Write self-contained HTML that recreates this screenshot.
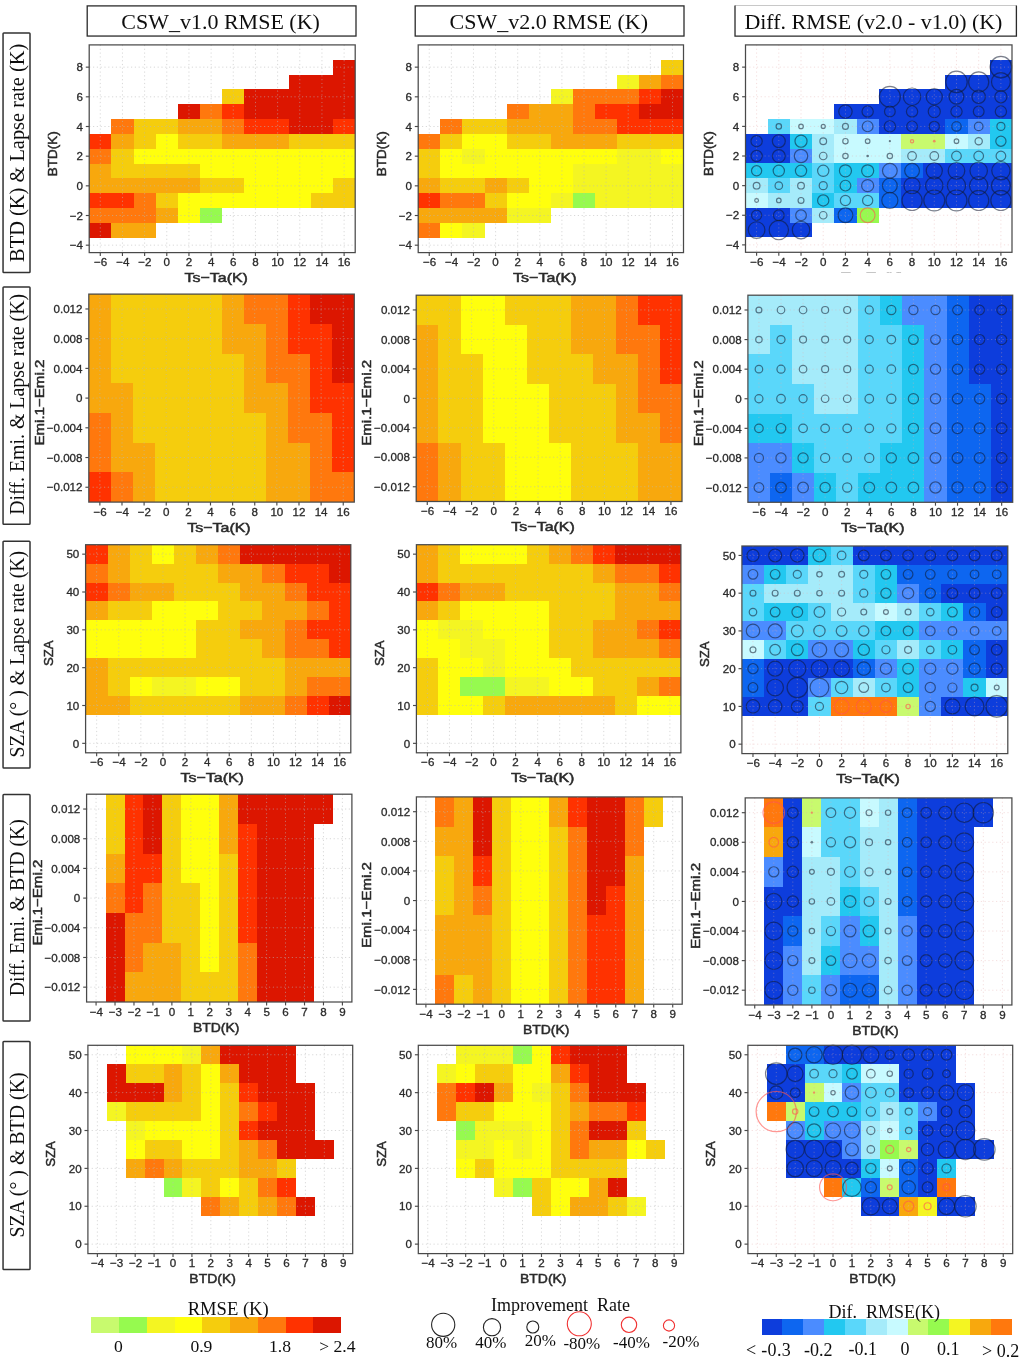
<!DOCTYPE html>
<html lang="en"><head><meta charset="utf-8"><title>RMSE comparison</title>
<style>html,body{margin:0;padding:0;background:#fff}svg{display:block}</style></head>
<body>
<svg width="1024" height="1363" viewBox="0 0 1024 1363">
<rect width="1024" height="1363" fill="#fff"/>
<defs><filter id="soft" x="0" y="0" width="100%" height="100%" filterUnits="userSpaceOnUse"><feGaussianBlur stdDeviation="0.42"/></filter></defs>
<g filter="url(#soft)">
<g>
<g shape-rendering="crispEdges">
<rect x="333.03" y="59.74" width="22.17" height="14.84" fill="#DC1400"/>
<rect x="288.7" y="74.57" width="66.5" height="14.84" fill="#DC1400"/>
<rect x="222.2" y="89.41" width="22.17" height="14.84" fill="#F5CD0A"/>
<rect x="244.37" y="89.41" width="110.83" height="14.84" fill="#DC1400"/>
<rect x="177.87" y="104.24" width="22.17" height="14.84" fill="#DC1400"/>
<rect x="200.03" y="104.24" width="22.17" height="14.84" fill="#FF780A"/>
<rect x="222.2" y="104.24" width="22.17" height="14.84" fill="#FF3200"/>
<rect x="244.37" y="104.24" width="110.83" height="14.84" fill="#DC1400"/>
<rect x="111.37" y="119.08" width="22.17" height="14.84" fill="#FF780A"/>
<rect x="133.53" y="119.08" width="44.33" height="14.84" fill="#F5CD0A"/>
<rect x="177.87" y="119.08" width="44.33" height="14.84" fill="#F8A80A"/>
<rect x="222.2" y="119.08" width="22.17" height="14.84" fill="#FF780A"/>
<rect x="244.37" y="119.08" width="44.33" height="14.84" fill="#FF3200"/>
<rect x="288.7" y="119.08" width="44.33" height="14.84" fill="#DC1400"/>
<rect x="333.03" y="119.08" width="22.17" height="14.84" fill="#FF3200"/>
<rect x="89.2" y="133.91" width="22.17" height="14.84" fill="#FF3200"/>
<rect x="111.37" y="133.91" width="22.17" height="14.84" fill="#F8A80A"/>
<rect x="133.53" y="133.91" width="22.17" height="14.84" fill="#F5CD0A"/>
<rect x="155.7" y="133.91" width="22.17" height="14.84" fill="#FFFF0A"/>
<rect x="177.87" y="133.91" width="44.33" height="14.84" fill="#F5CD0A"/>
<rect x="222.2" y="133.91" width="66.5" height="14.84" fill="#F8A80A"/>
<rect x="288.7" y="133.91" width="66.5" height="14.84" fill="#F5CD0A"/>
<rect x="89.2" y="148.75" width="22.17" height="14.84" fill="#FF780A"/>
<rect x="111.37" y="148.75" width="22.17" height="14.84" fill="#F5CD0A"/>
<rect x="133.53" y="148.75" width="221.67" height="14.84" fill="#FFFF0A"/>
<rect x="89.2" y="163.59" width="22.17" height="14.84" fill="#F8A80A"/>
<rect x="111.37" y="163.59" width="88.67" height="14.84" fill="#F5CD0A"/>
<rect x="200.03" y="163.59" width="155.17" height="14.84" fill="#FFFF0A"/>
<rect x="89.2" y="178.42" width="110.83" height="14.84" fill="#F8A80A"/>
<rect x="200.03" y="178.42" width="44.33" height="14.84" fill="#F5CD0A"/>
<rect x="244.37" y="178.42" width="88.67" height="14.84" fill="#FFFF0A"/>
<rect x="333.03" y="178.42" width="22.17" height="14.84" fill="#F5CD0A"/>
<rect x="89.2" y="193.26" width="44.33" height="14.84" fill="#FF3200"/>
<rect x="133.53" y="193.26" width="22.17" height="14.84" fill="#FF780A"/>
<rect x="155.7" y="193.26" width="22.17" height="14.84" fill="#F5CD0A"/>
<rect x="177.87" y="193.26" width="133" height="14.84" fill="#FFFF0A"/>
<rect x="310.87" y="193.26" width="44.33" height="14.84" fill="#F5CD0A"/>
<rect x="89.2" y="208.09" width="66.5" height="14.84" fill="#FF780A"/>
<rect x="155.7" y="208.09" width="22.17" height="14.84" fill="#F8A80A"/>
<rect x="177.87" y="208.09" width="22.17" height="14.84" fill="#FFFF0A"/>
<rect x="200.03" y="208.09" width="22.17" height="14.84" fill="#96FA50"/>
<rect x="89.2" y="222.93" width="22.17" height="14.84" fill="#DC1400"/>
<rect x="111.37" y="222.93" width="44.33" height="14.84" fill="#F8A80A"/>
</g>
<g stroke="#b9b9b9" stroke-width="0.9" stroke-dasharray="1.2 2.6" opacity="0.6" fill="none">
<path d="M100.28 44.9V252.6"/>
<path d="M122.45 44.9V252.6"/>
<path d="M144.62 44.9V252.6"/>
<path d="M166.78 44.9V252.6"/>
<path d="M188.95 44.9V252.6"/>
<path d="M211.12 44.9V252.6"/>
<path d="M233.28 44.9V252.6"/>
<path d="M255.45 44.9V252.6"/>
<path d="M277.62 44.9V252.6"/>
<path d="M299.78 44.9V252.6"/>
<path d="M321.95 44.9V252.6"/>
<path d="M344.12 44.9V252.6"/>
<path d="M89.2 67.15H355.2"/>
<path d="M89.2 96.82H355.2"/>
<path d="M89.2 126.5H355.2"/>
<path d="M89.2 156.17H355.2"/>
<path d="M89.2 185.84H355.2"/>
<path d="M89.2 215.51H355.2"/>
<path d="M89.2 245.18H355.2"/>
</g>
<rect x="89.2" y="44.9" width="266" height="207.7" fill="none" stroke="#4a4a4a" stroke-width="1.25"/>
<g stroke="#4a4a4a" stroke-width="1.15">
<path d="M100.28 252.6v3.4"/>
<path d="M122.45 252.6v3.4"/>
<path d="M144.62 252.6v3.4"/>
<path d="M166.78 252.6v3.4"/>
<path d="M188.95 252.6v3.4"/>
<path d="M211.12 252.6v3.4"/>
<path d="M233.28 252.6v3.4"/>
<path d="M255.45 252.6v3.4"/>
<path d="M277.62 252.6v3.4"/>
<path d="M299.78 252.6v3.4"/>
<path d="M321.95 252.6v3.4"/>
<path d="M344.12 252.6v3.4"/>
<path d="M89.2 67.15h-3.4"/>
<path d="M89.2 96.82h-3.4"/>
<path d="M89.2 126.5h-3.4"/>
<path d="M89.2 156.17h-3.4"/>
<path d="M89.2 185.84h-3.4"/>
<path d="M89.2 215.51h-3.4"/>
<path d="M89.2 245.18h-3.4"/>
</g>
<g font-family='"Liberation Sans", sans-serif' font-size="11.6" fill="#2a2a2a" stroke="#2a2a2a" stroke-width="0.3">
<text x="100.58" y="266.1" text-anchor="middle">−6</text>
<text x="122.75" y="266.1" text-anchor="middle">−4</text>
<text x="144.92" y="266.1" text-anchor="middle">−2</text>
<text x="166.78" y="266.1" text-anchor="middle">0</text>
<text x="188.95" y="266.1" text-anchor="middle">2</text>
<text x="211.12" y="266.1" text-anchor="middle">4</text>
<text x="233.28" y="266.1" text-anchor="middle">6</text>
<text x="255.45" y="266.1" text-anchor="middle">8</text>
<text x="277.62" y="266.1" text-anchor="middle">10</text>
<text x="299.78" y="266.1" text-anchor="middle">12</text>
<text x="321.95" y="266.1" text-anchor="middle">14</text>
<text x="344.12" y="266.1" text-anchor="middle">16</text>
<text x="82.9" y="71.35" text-anchor="end">8</text>
<text x="82.9" y="101.02" text-anchor="end">6</text>
<text x="82.9" y="130.7" text-anchor="end">4</text>
<text x="82.9" y="160.37" text-anchor="end">2</text>
<text x="82.9" y="190.04" text-anchor="end">0</text>
<text x="82.9" y="219.71" text-anchor="end">−2</text>
<text x="82.9" y="249.38" text-anchor="end">−4</text>
</g>
<g font-family='"Liberation Sans", sans-serif' font-size="13" fill="#2a2a2a" stroke="#2a2a2a" stroke-width="0.5" text-anchor="middle">
<text x="216.2" y="282.2" textLength="63.5" lengthAdjust="spacingAndGlyphs">Ts−Ta(K)</text>
<text transform="translate(56.7 153.75) rotate(-90)" textLength="44.8" lengthAdjust="spacingAndGlyphs">BTD(K)</text>
</g>
</g>
<g>
<g shape-rendering="crispEdges">
<rect x="661.39" y="59.74" width="22.11" height="14.84" fill="#F5CD0A"/>
<rect x="617.17" y="74.57" width="22.11" height="14.84" fill="#F4F520"/>
<rect x="639.28" y="74.57" width="22.11" height="14.84" fill="#F8A80A"/>
<rect x="661.39" y="74.57" width="22.11" height="14.84" fill="#FF780A"/>
<rect x="550.85" y="89.41" width="22.11" height="14.84" fill="#F4F520"/>
<rect x="572.96" y="89.41" width="66.33" height="14.84" fill="#FF780A"/>
<rect x="639.28" y="89.41" width="22.11" height="14.84" fill="#FF3200"/>
<rect x="661.39" y="89.41" width="22.11" height="14.84" fill="#DC1400"/>
<rect x="506.63" y="104.24" width="22.11" height="14.84" fill="#FF780A"/>
<rect x="528.74" y="104.24" width="44.22" height="14.84" fill="#F8A80A"/>
<rect x="572.96" y="104.24" width="22.11" height="14.84" fill="#FF780A"/>
<rect x="595.07" y="104.24" width="44.22" height="14.84" fill="#FF3200"/>
<rect x="639.28" y="104.24" width="44.22" height="14.84" fill="#DC1400"/>
<rect x="440.31" y="119.08" width="22.11" height="14.84" fill="#FF780A"/>
<rect x="462.42" y="119.08" width="44.22" height="14.84" fill="#F5CD0A"/>
<rect x="506.63" y="119.08" width="66.32" height="14.84" fill="#F8A80A"/>
<rect x="572.96" y="119.08" width="44.22" height="14.84" fill="#FF780A"/>
<rect x="617.17" y="119.08" width="66.33" height="14.84" fill="#FF3200"/>
<rect x="418.2" y="133.91" width="22.11" height="14.84" fill="#FF780A"/>
<rect x="440.31" y="133.91" width="22.11" height="14.84" fill="#F5CD0A"/>
<rect x="462.42" y="133.91" width="44.22" height="14.84" fill="#FFFF0A"/>
<rect x="506.63" y="133.91" width="44.22" height="14.84" fill="#F5CD0A"/>
<rect x="550.85" y="133.91" width="66.32" height="14.84" fill="#F8A80A"/>
<rect x="617.17" y="133.91" width="66.33" height="14.84" fill="#F5CD0A"/>
<rect x="418.2" y="148.75" width="22.11" height="14.84" fill="#F5CD0A"/>
<rect x="440.31" y="148.75" width="22.11" height="14.84" fill="#FFFF0A"/>
<rect x="462.42" y="148.75" width="22.11" height="14.84" fill="#F4F520"/>
<rect x="484.52" y="148.75" width="132.65" height="14.84" fill="#FFFF0A"/>
<rect x="617.17" y="148.75" width="44.22" height="14.84" fill="#F4F520"/>
<rect x="661.39" y="148.75" width="22.11" height="14.84" fill="#FFFF0A"/>
<rect x="418.2" y="163.59" width="22.11" height="14.84" fill="#F5CD0A"/>
<rect x="440.31" y="163.59" width="132.65" height="14.84" fill="#FFFF0A"/>
<rect x="572.96" y="163.59" width="110.54" height="14.84" fill="#F4F520"/>
<rect x="418.2" y="178.42" width="22.11" height="14.84" fill="#F8A80A"/>
<rect x="440.31" y="178.42" width="44.22" height="14.84" fill="#F5CD0A"/>
<rect x="484.52" y="178.42" width="22.11" height="14.84" fill="#F8A80A"/>
<rect x="506.63" y="178.42" width="22.11" height="14.84" fill="#F5CD0A"/>
<rect x="528.74" y="178.42" width="44.22" height="14.84" fill="#FFFF0A"/>
<rect x="572.96" y="178.42" width="110.54" height="14.84" fill="#F4F520"/>
<rect x="418.2" y="193.26" width="22.11" height="14.84" fill="#FF3200"/>
<rect x="440.31" y="193.26" width="44.22" height="14.84" fill="#FF780A"/>
<rect x="484.52" y="193.26" width="22.11" height="14.84" fill="#F5CD0A"/>
<rect x="506.63" y="193.26" width="44.22" height="14.84" fill="#FFFF0A"/>
<rect x="550.85" y="193.26" width="22.11" height="14.84" fill="#F4F520"/>
<rect x="572.96" y="193.26" width="22.11" height="14.84" fill="#96FA50"/>
<rect x="595.07" y="193.26" width="88.43" height="14.84" fill="#F4F520"/>
<rect x="418.2" y="208.09" width="88.43" height="14.84" fill="#F8A80A"/>
<rect x="506.63" y="208.09" width="44.22" height="14.84" fill="#F4F520"/>
<rect x="418.2" y="222.93" width="22.11" height="14.84" fill="#FF780A"/>
<rect x="440.31" y="222.93" width="22.11" height="14.84" fill="#FFFF0A"/>
<rect x="462.42" y="222.93" width="22.11" height="14.84" fill="#F4F520"/>
</g>
<g stroke="#b9b9b9" stroke-width="0.9" stroke-dasharray="1.2 2.6" opacity="0.6" fill="none">
<path d="M429.25 44.9V252.6"/>
<path d="M451.36 44.9V252.6"/>
<path d="M473.47 44.9V252.6"/>
<path d="M495.58 44.9V252.6"/>
<path d="M517.69 44.9V252.6"/>
<path d="M539.8 44.9V252.6"/>
<path d="M561.9 44.9V252.6"/>
<path d="M584.01 44.9V252.6"/>
<path d="M606.12 44.9V252.6"/>
<path d="M628.23 44.9V252.6"/>
<path d="M650.34 44.9V252.6"/>
<path d="M672.45 44.9V252.6"/>
<path d="M418.2 67.15H683.5"/>
<path d="M418.2 96.82H683.5"/>
<path d="M418.2 126.5H683.5"/>
<path d="M418.2 156.17H683.5"/>
<path d="M418.2 185.84H683.5"/>
<path d="M418.2 215.51H683.5"/>
<path d="M418.2 245.18H683.5"/>
</g>
<rect x="418.2" y="44.9" width="265.3" height="207.7" fill="none" stroke="#4a4a4a" stroke-width="1.25"/>
<g stroke="#4a4a4a" stroke-width="1.15">
<path d="M429.25 252.6v3.4"/>
<path d="M451.36 252.6v3.4"/>
<path d="M473.47 252.6v3.4"/>
<path d="M495.58 252.6v3.4"/>
<path d="M517.69 252.6v3.4"/>
<path d="M539.8 252.6v3.4"/>
<path d="M561.9 252.6v3.4"/>
<path d="M584.01 252.6v3.4"/>
<path d="M606.12 252.6v3.4"/>
<path d="M628.23 252.6v3.4"/>
<path d="M650.34 252.6v3.4"/>
<path d="M672.45 252.6v3.4"/>
<path d="M418.2 67.15h-3.4"/>
<path d="M418.2 96.82h-3.4"/>
<path d="M418.2 126.5h-3.4"/>
<path d="M418.2 156.17h-3.4"/>
<path d="M418.2 185.84h-3.4"/>
<path d="M418.2 215.51h-3.4"/>
<path d="M418.2 245.18h-3.4"/>
</g>
<g font-family='"Liberation Sans", sans-serif' font-size="11.6" fill="#2a2a2a" stroke="#2a2a2a" stroke-width="0.3">
<text x="429.55" y="266.1" text-anchor="middle">−6</text>
<text x="451.66" y="266.1" text-anchor="middle">−4</text>
<text x="473.77" y="266.1" text-anchor="middle">−2</text>
<text x="495.58" y="266.1" text-anchor="middle">0</text>
<text x="517.69" y="266.1" text-anchor="middle">2</text>
<text x="539.8" y="266.1" text-anchor="middle">4</text>
<text x="561.9" y="266.1" text-anchor="middle">6</text>
<text x="584.01" y="266.1" text-anchor="middle">8</text>
<text x="606.12" y="266.1" text-anchor="middle">10</text>
<text x="628.23" y="266.1" text-anchor="middle">12</text>
<text x="650.34" y="266.1" text-anchor="middle">14</text>
<text x="672.45" y="266.1" text-anchor="middle">16</text>
<text x="411.9" y="71.35" text-anchor="end">8</text>
<text x="411.9" y="101.02" text-anchor="end">6</text>
<text x="411.9" y="130.7" text-anchor="end">4</text>
<text x="411.9" y="160.37" text-anchor="end">2</text>
<text x="411.9" y="190.04" text-anchor="end">0</text>
<text x="411.9" y="219.71" text-anchor="end">−2</text>
<text x="411.9" y="249.38" text-anchor="end">−4</text>
</g>
<g font-family='"Liberation Sans", sans-serif' font-size="13" fill="#2a2a2a" stroke="#2a2a2a" stroke-width="0.5" text-anchor="middle">
<text x="544.85" y="282.2" textLength="63.5" lengthAdjust="spacingAndGlyphs">Ts−Ta(K)</text>
<text transform="translate(385.7 153.75) rotate(-90)" textLength="44.8" lengthAdjust="spacingAndGlyphs">BTD(K)</text>
</g>
</g>
<g>
<g shape-rendering="crispEdges">
<rect x="989.79" y="59.71" width="22.21" height="14.81" fill="#0A3CDC"/>
<rect x="945.38" y="74.53" width="66.62" height="14.81" fill="#0A3CDC"/>
<rect x="878.75" y="89.34" width="133.25" height="14.81" fill="#0A3CDC"/>
<rect x="834.33" y="104.16" width="177.67" height="14.81" fill="#0A3CDC"/>
<rect x="767.71" y="118.97" width="22.21" height="14.81" fill="#5AD7FA"/>
<rect x="789.92" y="118.97" width="44.42" height="14.81" fill="#C8FAFF"/>
<rect x="834.33" y="118.97" width="22.21" height="14.81" fill="#A5EBFA"/>
<rect x="856.54" y="118.97" width="22.21" height="14.81" fill="#4B8CFF"/>
<rect x="878.75" y="118.97" width="66.62" height="14.81" fill="#0A3CDC"/>
<rect x="945.38" y="118.97" width="22.21" height="14.81" fill="#0A66F0"/>
<rect x="967.58" y="118.97" width="22.21" height="14.81" fill="#4B8CFF"/>
<rect x="989.79" y="118.97" width="22.21" height="14.81" fill="#23C8F0"/>
<rect x="745.5" y="133.79" width="44.42" height="14.81" fill="#0A3CDC"/>
<rect x="789.92" y="133.79" width="22.21" height="14.81" fill="#23C8F0"/>
<rect x="812.12" y="133.79" width="22.21" height="14.81" fill="#A5EBFA"/>
<rect x="834.33" y="133.79" width="66.62" height="14.81" fill="#C8FAFF"/>
<rect x="900.96" y="133.79" width="44.42" height="14.81" fill="#C8FA6E"/>
<rect x="945.38" y="133.79" width="22.21" height="14.81" fill="#C8FAFF"/>
<rect x="967.58" y="133.79" width="22.21" height="14.81" fill="#A5EBFA"/>
<rect x="989.79" y="133.79" width="22.21" height="14.81" fill="#23C8F0"/>
<rect x="745.5" y="148.6" width="44.42" height="14.81" fill="#0A3CDC"/>
<rect x="789.92" y="148.6" width="22.21" height="14.81" fill="#4B8CFF"/>
<rect x="812.12" y="148.6" width="22.21" height="14.81" fill="#A5EBFA"/>
<rect x="834.33" y="148.6" width="66.62" height="14.81" fill="#C8FAFF"/>
<rect x="900.96" y="148.6" width="44.42" height="14.81" fill="#A5EBFA"/>
<rect x="945.38" y="148.6" width="66.62" height="14.81" fill="#5AD7FA"/>
<rect x="745.5" y="163.41" width="66.62" height="14.81" fill="#23C8F0"/>
<rect x="812.12" y="163.41" width="22.21" height="14.81" fill="#5AD7FA"/>
<rect x="834.33" y="163.41" width="44.42" height="14.81" fill="#23C8F0"/>
<rect x="878.75" y="163.41" width="22.21" height="14.81" fill="#4B8CFF"/>
<rect x="900.96" y="163.41" width="22.21" height="14.81" fill="#0A66F0"/>
<rect x="923.17" y="163.41" width="88.83" height="14.81" fill="#0A3CDC"/>
<rect x="745.5" y="178.23" width="22.21" height="14.81" fill="#A5EBFA"/>
<rect x="767.71" y="178.23" width="22.21" height="14.81" fill="#5AD7FA"/>
<rect x="789.92" y="178.23" width="22.21" height="14.81" fill="#A5EBFA"/>
<rect x="812.12" y="178.23" width="22.21" height="14.81" fill="#5AD7FA"/>
<rect x="834.33" y="178.23" width="22.21" height="14.81" fill="#23C8F0"/>
<rect x="856.54" y="178.23" width="22.21" height="14.81" fill="#4B8CFF"/>
<rect x="878.75" y="178.23" width="22.21" height="14.81" fill="#0A66F0"/>
<rect x="900.96" y="178.23" width="111.04" height="14.81" fill="#0A3CDC"/>
<rect x="745.5" y="193.04" width="22.21" height="14.81" fill="#C8FAFF"/>
<rect x="767.71" y="193.04" width="44.42" height="14.81" fill="#A5EBFA"/>
<rect x="812.12" y="193.04" width="22.21" height="14.81" fill="#23C8F0"/>
<rect x="834.33" y="193.04" width="44.42" height="14.81" fill="#5AD7FA"/>
<rect x="878.75" y="193.04" width="22.21" height="14.81" fill="#0A66F0"/>
<rect x="900.96" y="193.04" width="111.04" height="14.81" fill="#0A3CDC"/>
<rect x="745.5" y="207.86" width="44.42" height="14.81" fill="#0A3CDC"/>
<rect x="789.92" y="207.86" width="22.21" height="14.81" fill="#4B8CFF"/>
<rect x="812.12" y="207.86" width="22.21" height="14.81" fill="#A5EBFA"/>
<rect x="834.33" y="207.86" width="22.21" height="14.81" fill="#0A66F0"/>
<rect x="856.54" y="207.86" width="22.21" height="14.81" fill="#96FA50"/>
<rect x="745.5" y="222.67" width="66.62" height="14.81" fill="#0A3CDC"/>
</g>
<g stroke="#e3a9a9" stroke-width="0.9" stroke-dasharray="1.2 2.6" opacity="0.42" fill="none">
<path d="M756.6 44.9V252.3"/>
<path d="M778.81 44.9V252.3"/>
<path d="M801.02 44.9V252.3"/>
<path d="M823.23 44.9V252.3"/>
<path d="M845.44 44.9V252.3"/>
<path d="M867.65 44.9V252.3"/>
<path d="M889.85 44.9V252.3"/>
<path d="M912.06 44.9V252.3"/>
<path d="M934.27 44.9V252.3"/>
<path d="M956.48 44.9V252.3"/>
<path d="M978.69 44.9V252.3"/>
<path d="M1000.9 44.9V252.3"/>
<path d="M745.5 67.12H1012"/>
<path d="M745.5 96.75H1012"/>
<path d="M745.5 126.38H1012"/>
<path d="M745.5 156.01H1012"/>
<path d="M745.5 185.64H1012"/>
<path d="M745.5 215.26H1012"/>
<path d="M745.5 244.89H1012"/>
</g>
<g fill="none" stroke-width="1.2">
<circle cx="1000.9" cy="67.12" r="10.74" stroke="rgba(15,25,45,0.55)"/>
<circle cx="956.48" cy="81.94" r="10.74" stroke="rgba(15,25,45,0.55)"/>
<circle cx="978.69" cy="81.94" r="10.07" stroke="rgba(15,25,45,0.55)"/>
<circle cx="1000.9" cy="81.94" r="9.4" stroke="rgba(15,25,45,0.55)"/>
<circle cx="889.85" cy="96.75" r="10.47" stroke="rgba(15,25,45,0.55)"/>
<circle cx="912.06" cy="96.75" r="8.73" stroke="rgba(15,25,45,0.55)"/>
<circle cx="934.27" cy="96.75" r="8.06" stroke="rgba(15,25,45,0.55)"/>
<circle cx="956.48" cy="96.75" r="7.38" stroke="rgba(15,25,45,0.55)"/>
<circle cx="978.69" cy="96.75" r="6.71" stroke="rgba(15,25,45,0.55)"/>
<circle cx="1000.9" cy="96.75" r="6.04" stroke="rgba(15,25,45,0.55)"/>
<circle cx="845.44" cy="111.56" r="6.71" stroke="rgba(15,25,45,0.55)"/>
<circle cx="867.65" cy="111.56" r="5.64" stroke="rgba(15,25,45,0.55)"/>
<circle cx="889.85" cy="111.56" r="5.37" stroke="rgba(15,25,45,0.55)"/>
<circle cx="912.06" cy="111.56" r="5.64" stroke="rgba(15,25,45,0.55)"/>
<circle cx="934.27" cy="111.56" r="6.04" stroke="rgba(15,25,45,0.55)"/>
<circle cx="956.48" cy="111.56" r="5.64" stroke="rgba(15,25,45,0.55)"/>
<circle cx="978.69" cy="111.56" r="5.37" stroke="rgba(15,25,45,0.55)"/>
<circle cx="1000.9" cy="111.56" r="5.64" stroke="rgba(15,25,45,0.55)"/>
<circle cx="778.81" cy="126.38" r="2.69" stroke="rgba(15,25,45,0.55)"/>
<circle cx="801.02" cy="126.38" r="2.28" stroke="rgba(15,25,45,0.55)"/>
<circle cx="823.23" cy="126.38" r="2.01" stroke="rgba(15,25,45,0.55)"/>
<circle cx="845.44" cy="126.38" r="2.95" stroke="rgba(15,25,45,0.55)"/>
<circle cx="867.65" cy="126.38" r="5.37" stroke="rgba(15,25,45,0.55)"/>
<circle cx="889.85" cy="126.38" r="5.64" stroke="rgba(15,25,45,0.55)"/>
<circle cx="912.06" cy="126.38" r="5.37" stroke="rgba(15,25,45,0.55)"/>
<circle cx="934.27" cy="126.38" r="5.1" stroke="rgba(15,25,45,0.55)"/>
<circle cx="956.48" cy="126.38" r="4.7" stroke="rgba(15,25,45,0.55)"/>
<circle cx="978.69" cy="126.38" r="4.3" stroke="rgba(15,25,45,0.55)"/>
<circle cx="1000.9" cy="126.38" r="4.03" stroke="rgba(15,25,45,0.55)"/>
<circle cx="756.6" cy="141.19" r="5.64" stroke="rgba(15,25,45,0.55)"/>
<circle cx="778.81" cy="141.19" r="6.44" stroke="rgba(15,25,45,0.55)"/>
<circle cx="801.02" cy="141.19" r="6.04" stroke="rgba(15,25,45,0.55)"/>
<circle cx="823.23" cy="141.19" r="3.36" stroke="rgba(15,25,45,0.55)"/>
<circle cx="845.44" cy="141.19" r="2.69" stroke="rgba(15,25,45,0.55)"/>
<circle cx="867.65" cy="141.19" r="2.28" stroke="rgba(15,25,45,0.55)"/>
<circle cx="889.85" cy="141.19" r="1.1" fill="rgba(15,25,45,0.55)" stroke="none"/>
<circle cx="912.06" cy="141.19" r="1.61" stroke="rgba(255,85,80,0.62)"/>
<circle cx="934.27" cy="141.19" r="1.34" fill="rgba(255,85,80,0.62)" stroke="none"/>
<circle cx="956.48" cy="141.19" r="2.28" stroke="rgba(15,25,45,0.55)"/>
<circle cx="978.69" cy="141.19" r="3.63" stroke="rgba(15,25,45,0.55)"/>
<circle cx="1000.9" cy="141.19" r="5.1" stroke="rgba(15,25,45,0.55)"/>
<circle cx="756.6" cy="156.01" r="5.64" stroke="rgba(15,25,45,0.55)"/>
<circle cx="778.81" cy="156.01" r="6.44" stroke="rgba(15,25,45,0.55)"/>
<circle cx="801.02" cy="156.01" r="6.71" stroke="rgba(15,25,45,0.55)"/>
<circle cx="823.23" cy="156.01" r="3.76" stroke="rgba(15,25,45,0.55)"/>
<circle cx="845.44" cy="156.01" r="2.69" stroke="rgba(15,25,45,0.55)"/>
<circle cx="867.65" cy="156.01" r="1.34" fill="rgba(15,25,45,0.55)" stroke="none"/>
<circle cx="889.85" cy="156.01" r="2.69" stroke="rgba(15,25,45,0.55)"/>
<circle cx="912.06" cy="156.01" r="4.3" stroke="rgba(15,25,45,0.55)"/>
<circle cx="934.27" cy="156.01" r="4.3" stroke="rgba(15,25,45,0.55)"/>
<circle cx="956.48" cy="156.01" r="4.83" stroke="rgba(15,25,45,0.55)"/>
<circle cx="978.69" cy="156.01" r="4.83" stroke="rgba(15,25,45,0.55)"/>
<circle cx="1000.9" cy="156.01" r="4.83" stroke="rgba(15,25,45,0.55)"/>
<circle cx="756.6" cy="170.82" r="5.1" stroke="rgba(15,25,45,0.55)"/>
<circle cx="778.81" cy="170.82" r="5.64" stroke="rgba(15,25,45,0.55)"/>
<circle cx="801.02" cy="170.82" r="5.64" stroke="rgba(15,25,45,0.55)"/>
<circle cx="823.23" cy="170.82" r="5.64" stroke="rgba(15,25,45,0.55)"/>
<circle cx="845.44" cy="170.82" r="6.04" stroke="rgba(15,25,45,0.55)"/>
<circle cx="867.65" cy="170.82" r="6.04" stroke="rgba(15,25,45,0.55)"/>
<circle cx="889.85" cy="170.82" r="7.38" stroke="rgba(15,25,45,0.55)"/>
<circle cx="912.06" cy="170.82" r="7.38" stroke="rgba(15,25,45,0.55)"/>
<circle cx="934.27" cy="170.82" r="8.06" stroke="rgba(15,25,45,0.55)"/>
<circle cx="956.48" cy="170.82" r="8.32" stroke="rgba(15,25,45,0.55)"/>
<circle cx="978.69" cy="170.82" r="8.73" stroke="rgba(15,25,45,0.55)"/>
<circle cx="1000.9" cy="170.82" r="9.13" stroke="rgba(15,25,45,0.55)"/>
<circle cx="756.6" cy="185.64" r="3.36" stroke="rgba(15,25,45,0.55)"/>
<circle cx="778.81" cy="185.64" r="3.76" stroke="rgba(15,25,45,0.55)"/>
<circle cx="801.02" cy="185.64" r="3.36" stroke="rgba(15,25,45,0.55)"/>
<circle cx="823.23" cy="185.64" r="4.03" stroke="rgba(15,25,45,0.55)"/>
<circle cx="845.44" cy="185.64" r="5.37" stroke="rgba(15,25,45,0.55)"/>
<circle cx="867.65" cy="185.64" r="6.04" stroke="rgba(15,25,45,0.55)"/>
<circle cx="889.85" cy="185.64" r="7.38" stroke="rgba(15,25,45,0.55)"/>
<circle cx="912.06" cy="185.64" r="8.06" stroke="rgba(15,25,45,0.55)"/>
<circle cx="934.27" cy="185.64" r="8.73" stroke="rgba(15,25,45,0.55)"/>
<circle cx="956.48" cy="185.64" r="9.13" stroke="rgba(15,25,45,0.55)"/>
<circle cx="978.69" cy="185.64" r="9.13" stroke="rgba(15,25,45,0.55)"/>
<circle cx="1000.9" cy="185.64" r="9.4" stroke="rgba(15,25,45,0.55)"/>
<circle cx="756.6" cy="200.45" r="1.88" stroke="rgba(15,25,45,0.55)"/>
<circle cx="778.81" cy="200.45" r="2.28" stroke="rgba(15,25,45,0.55)"/>
<circle cx="801.02" cy="200.45" r="2.95" stroke="rgba(15,25,45,0.55)"/>
<circle cx="823.23" cy="200.45" r="5.64" stroke="rgba(15,25,45,0.55)"/>
<circle cx="845.44" cy="200.45" r="5.1" stroke="rgba(15,25,45,0.55)"/>
<circle cx="867.65" cy="200.45" r="5.1" stroke="rgba(15,25,45,0.55)"/>
<circle cx="889.85" cy="200.45" r="8.06" stroke="rgba(15,25,45,0.55)"/>
<circle cx="912.06" cy="200.45" r="10.07" stroke="rgba(15,25,45,0.55)"/>
<circle cx="934.27" cy="200.45" r="10.47" stroke="rgba(15,25,45,0.55)"/>
<circle cx="956.48" cy="200.45" r="10.47" stroke="rgba(15,25,45,0.55)"/>
<circle cx="978.69" cy="200.45" r="10.07" stroke="rgba(15,25,45,0.55)"/>
<circle cx="1000.9" cy="200.45" r="10.07" stroke="rgba(15,25,45,0.55)"/>
<circle cx="756.6" cy="215.26" r="5.1" stroke="rgba(15,25,45,0.55)"/>
<circle cx="778.81" cy="215.26" r="5.37" stroke="rgba(15,25,45,0.55)"/>
<circle cx="801.02" cy="215.26" r="5.37" stroke="rgba(15,25,45,0.55)"/>
<circle cx="823.23" cy="215.26" r="3.76" stroke="rgba(15,25,45,0.55)"/>
<circle cx="845.44" cy="215.26" r="7.38" stroke="rgba(15,25,45,0.55)"/>
<circle cx="867.65" cy="215.26" r="7.38" stroke="rgba(255,85,80,0.62)"/>
<circle cx="756.6" cy="230.08" r="8.32" stroke="rgba(15,25,45,0.55)"/>
<circle cx="778.81" cy="230.08" r="9.67" stroke="rgba(15,25,45,0.55)"/>
<circle cx="801.02" cy="230.08" r="8.73" stroke="rgba(15,25,45,0.55)"/>
</g>
<rect x="745.5" y="44.9" width="266.5" height="207.4" fill="none" stroke="#4a4a4a" stroke-width="1.25"/>
<g stroke="#4a4a4a" stroke-width="1.15">
<path d="M756.6 252.3v3.4"/>
<path d="M778.81 252.3v3.4"/>
<path d="M801.02 252.3v3.4"/>
<path d="M823.23 252.3v3.4"/>
<path d="M845.44 252.3v3.4"/>
<path d="M867.65 252.3v3.4"/>
<path d="M889.85 252.3v3.4"/>
<path d="M912.06 252.3v3.4"/>
<path d="M934.27 252.3v3.4"/>
<path d="M956.48 252.3v3.4"/>
<path d="M978.69 252.3v3.4"/>
<path d="M1000.9 252.3v3.4"/>
<path d="M745.5 67.12h-3.4"/>
<path d="M745.5 96.75h-3.4"/>
<path d="M745.5 126.38h-3.4"/>
<path d="M745.5 156.01h-3.4"/>
<path d="M745.5 185.64h-3.4"/>
<path d="M745.5 215.26h-3.4"/>
<path d="M745.5 244.89h-3.4"/>
</g>
<g font-family='"Liberation Sans", sans-serif' font-size="11.6" fill="#2a2a2a" stroke="#2a2a2a" stroke-width="0.3">
<text x="756.9" y="265.8" text-anchor="middle">−6</text>
<text x="779.11" y="265.8" text-anchor="middle">−4</text>
<text x="801.32" y="265.8" text-anchor="middle">−2</text>
<text x="823.23" y="265.8" text-anchor="middle">0</text>
<text x="845.44" y="265.8" text-anchor="middle">2</text>
<text x="867.65" y="265.8" text-anchor="middle">4</text>
<text x="889.85" y="265.8" text-anchor="middle">6</text>
<text x="912.06" y="265.8" text-anchor="middle">8</text>
<text x="934.27" y="265.8" text-anchor="middle">10</text>
<text x="956.48" y="265.8" text-anchor="middle">12</text>
<text x="978.69" y="265.8" text-anchor="middle">14</text>
<text x="1000.9" y="265.8" text-anchor="middle">16</text>
<text x="739.2" y="71.32" text-anchor="end">8</text>
<text x="739.2" y="100.95" text-anchor="end">6</text>
<text x="739.2" y="130.58" text-anchor="end">4</text>
<text x="739.2" y="160.21" text-anchor="end">2</text>
<text x="739.2" y="189.84" text-anchor="end">0</text>
<text x="739.2" y="219.46" text-anchor="end">−2</text>
<text x="739.2" y="249.09" text-anchor="end">−4</text>
</g>
<g font-family='"Liberation Sans", sans-serif' font-size="13" fill="#2a2a2a" stroke="#2a2a2a" stroke-width="0.5" text-anchor="middle">
<text x="872.75" y="281.9" textLength="63.5" lengthAdjust="spacingAndGlyphs">Ts−Ta(K)</text>
<rect x="745.5" y="273" width="266.5" height="14" fill="#fff" stroke="none"/>
<text transform="translate(713 153.6) rotate(-90)" textLength="44.8" lengthAdjust="spacingAndGlyphs">BTD(K)</text>
</g>
</g>
<g>
<g shape-rendering="crispEdges">
<rect x="88.8" y="294.1" width="22.12" height="29.71" fill="#F8A80A"/>
<rect x="110.92" y="294.1" width="110.63" height="29.71" fill="#F5CD0A"/>
<rect x="221.55" y="294.1" width="22.12" height="29.71" fill="#F8A80A"/>
<rect x="243.68" y="294.1" width="44.25" height="29.71" fill="#FF780A"/>
<rect x="287.93" y="294.1" width="22.12" height="29.71" fill="#FF3200"/>
<rect x="310.05" y="294.1" width="44.25" height="29.71" fill="#DC1400"/>
<rect x="88.8" y="323.81" width="22.12" height="29.71" fill="#F8A80A"/>
<rect x="110.92" y="323.81" width="110.63" height="29.71" fill="#F5CD0A"/>
<rect x="221.55" y="323.81" width="44.25" height="29.71" fill="#F8A80A"/>
<rect x="265.8" y="323.81" width="22.12" height="29.71" fill="#FF780A"/>
<rect x="287.93" y="323.81" width="44.25" height="29.71" fill="#FF3200"/>
<rect x="332.18" y="323.81" width="22.12" height="29.71" fill="#DC1400"/>
<rect x="88.8" y="353.53" width="22.12" height="29.71" fill="#F8A80A"/>
<rect x="110.92" y="353.53" width="132.75" height="29.71" fill="#F5CD0A"/>
<rect x="243.68" y="353.53" width="22.12" height="29.71" fill="#F8A80A"/>
<rect x="265.8" y="353.53" width="44.25" height="29.71" fill="#FF780A"/>
<rect x="310.05" y="353.53" width="22.12" height="29.71" fill="#FF3200"/>
<rect x="332.18" y="353.53" width="22.12" height="29.71" fill="#DC1400"/>
<rect x="88.8" y="383.24" width="44.25" height="29.71" fill="#F8A80A"/>
<rect x="133.05" y="383.24" width="110.62" height="29.71" fill="#F5CD0A"/>
<rect x="243.68" y="383.24" width="44.25" height="29.71" fill="#F8A80A"/>
<rect x="287.93" y="383.24" width="22.12" height="29.71" fill="#FF780A"/>
<rect x="310.05" y="383.24" width="44.25" height="29.71" fill="#FF3200"/>
<rect x="88.8" y="412.96" width="22.12" height="29.71" fill="#FF780A"/>
<rect x="110.92" y="412.96" width="22.13" height="29.71" fill="#F8A80A"/>
<rect x="133.05" y="412.96" width="132.75" height="29.71" fill="#F5CD0A"/>
<rect x="265.8" y="412.96" width="22.12" height="29.71" fill="#F8A80A"/>
<rect x="287.93" y="412.96" width="44.25" height="29.71" fill="#FF780A"/>
<rect x="332.18" y="412.96" width="22.12" height="29.71" fill="#FF3200"/>
<rect x="88.8" y="442.67" width="22.12" height="29.71" fill="#FF780A"/>
<rect x="110.92" y="442.67" width="44.25" height="29.71" fill="#F8A80A"/>
<rect x="155.18" y="442.67" width="110.62" height="29.71" fill="#F5CD0A"/>
<rect x="265.8" y="442.67" width="44.25" height="29.71" fill="#F8A80A"/>
<rect x="310.05" y="442.67" width="22.12" height="29.71" fill="#FF780A"/>
<rect x="332.18" y="442.67" width="22.12" height="29.71" fill="#FF3200"/>
<rect x="88.8" y="472.39" width="22.12" height="29.71" fill="#FF3200"/>
<rect x="110.92" y="472.39" width="22.13" height="29.71" fill="#FF780A"/>
<rect x="133.05" y="472.39" width="22.12" height="29.71" fill="#F8A80A"/>
<rect x="155.18" y="472.39" width="110.62" height="29.71" fill="#F5CD0A"/>
<rect x="265.8" y="472.39" width="44.25" height="29.71" fill="#F8A80A"/>
<rect x="310.05" y="472.39" width="44.25" height="29.71" fill="#FF780A"/>
</g>
<g stroke="#b9b9b9" stroke-width="0.9" stroke-dasharray="1.2 2.6" opacity="0.6" fill="none">
<path d="M99.86 294.1V502.1"/>
<path d="M121.99 294.1V502.1"/>
<path d="M144.11 294.1V502.1"/>
<path d="M166.24 294.1V502.1"/>
<path d="M188.36 294.1V502.1"/>
<path d="M210.49 294.1V502.1"/>
<path d="M232.61 294.1V502.1"/>
<path d="M254.74 294.1V502.1"/>
<path d="M276.86 294.1V502.1"/>
<path d="M298.99 294.1V502.1"/>
<path d="M321.11 294.1V502.1"/>
<path d="M343.24 294.1V502.1"/>
<path d="M88.8 308.96H354.3"/>
<path d="M88.8 338.67H354.3"/>
<path d="M88.8 368.39H354.3"/>
<path d="M88.8 398.1H354.3"/>
<path d="M88.8 427.81H354.3"/>
<path d="M88.8 457.53H354.3"/>
<path d="M88.8 487.24H354.3"/>
</g>
<rect x="88.8" y="294.1" width="265.5" height="208" fill="none" stroke="#4a4a4a" stroke-width="1.25"/>
<g stroke="#4a4a4a" stroke-width="1.15">
<path d="M99.86 502.1v3.4"/>
<path d="M121.99 502.1v3.4"/>
<path d="M144.11 502.1v3.4"/>
<path d="M166.24 502.1v3.4"/>
<path d="M188.36 502.1v3.4"/>
<path d="M210.49 502.1v3.4"/>
<path d="M232.61 502.1v3.4"/>
<path d="M254.74 502.1v3.4"/>
<path d="M276.86 502.1v3.4"/>
<path d="M298.99 502.1v3.4"/>
<path d="M321.11 502.1v3.4"/>
<path d="M343.24 502.1v3.4"/>
<path d="M88.8 308.96h-3.4"/>
<path d="M88.8 338.67h-3.4"/>
<path d="M88.8 368.39h-3.4"/>
<path d="M88.8 398.1h-3.4"/>
<path d="M88.8 427.81h-3.4"/>
<path d="M88.8 457.53h-3.4"/>
<path d="M88.8 487.24h-3.4"/>
</g>
<g font-family='"Liberation Sans", sans-serif' font-size="11.6" fill="#2a2a2a" stroke="#2a2a2a" stroke-width="0.3">
<text x="100.16" y="515.6" text-anchor="middle">−6</text>
<text x="122.29" y="515.6" text-anchor="middle">−4</text>
<text x="144.41" y="515.6" text-anchor="middle">−2</text>
<text x="166.24" y="515.6" text-anchor="middle">0</text>
<text x="188.36" y="515.6" text-anchor="middle">2</text>
<text x="210.49" y="515.6" text-anchor="middle">4</text>
<text x="232.61" y="515.6" text-anchor="middle">6</text>
<text x="254.74" y="515.6" text-anchor="middle">8</text>
<text x="276.86" y="515.6" text-anchor="middle">10</text>
<text x="298.99" y="515.6" text-anchor="middle">12</text>
<text x="321.11" y="515.6" text-anchor="middle">14</text>
<text x="343.24" y="515.6" text-anchor="middle">16</text>
<text x="82.5" y="313.16" text-anchor="end">0.012</text>
<text x="82.5" y="342.87" text-anchor="end">0.008</text>
<text x="82.5" y="372.59" text-anchor="end">0.004</text>
<text x="82.5" y="402.3" text-anchor="end">0</text>
<text x="82.5" y="432.01" text-anchor="end">−0.004</text>
<text x="82.5" y="461.73" text-anchor="end">−0.008</text>
<text x="82.5" y="491.44" text-anchor="end">−0.012</text>
</g>
<g font-family='"Liberation Sans", sans-serif' font-size="13" fill="#2a2a2a" stroke="#2a2a2a" stroke-width="0.5" text-anchor="middle">
<text x="218.95" y="531.7" textLength="63.5" lengthAdjust="spacingAndGlyphs">Ts−Ta(K)</text>
<text transform="translate(43.8 402.6) rotate(-90)" textLength="86" lengthAdjust="spacingAndGlyphs">Emi.1−Emi.2</text>
</g>
</g>
<g>
<g shape-rendering="crispEdges">
<rect x="416.2" y="295.2" width="44.3" height="29.47" fill="#F5CD0A"/>
<rect x="460.5" y="295.2" width="44.3" height="29.47" fill="#FFFF0A"/>
<rect x="504.8" y="295.2" width="66.45" height="29.47" fill="#F5CD0A"/>
<rect x="571.25" y="295.2" width="44.3" height="29.47" fill="#F8A80A"/>
<rect x="615.55" y="295.2" width="22.15" height="29.47" fill="#FF780A"/>
<rect x="637.7" y="295.2" width="44.3" height="29.47" fill="#FF3200"/>
<rect x="416.2" y="324.67" width="22.15" height="29.47" fill="#F8A80A"/>
<rect x="438.35" y="324.67" width="22.15" height="29.47" fill="#F5CD0A"/>
<rect x="460.5" y="324.67" width="66.45" height="29.47" fill="#FFFF0A"/>
<rect x="526.95" y="324.67" width="44.3" height="29.47" fill="#F5CD0A"/>
<rect x="571.25" y="324.67" width="44.3" height="29.47" fill="#F8A80A"/>
<rect x="615.55" y="324.67" width="44.3" height="29.47" fill="#FF780A"/>
<rect x="659.85" y="324.67" width="22.15" height="29.47" fill="#FF3200"/>
<rect x="416.2" y="354.14" width="22.15" height="29.47" fill="#F8A80A"/>
<rect x="438.35" y="354.14" width="44.3" height="29.47" fill="#F5CD0A"/>
<rect x="482.65" y="354.14" width="44.3" height="29.47" fill="#FFFF0A"/>
<rect x="526.95" y="354.14" width="66.45" height="29.47" fill="#F5CD0A"/>
<rect x="593.4" y="354.14" width="44.3" height="29.47" fill="#F8A80A"/>
<rect x="637.7" y="354.14" width="22.15" height="29.47" fill="#FF780A"/>
<rect x="659.85" y="354.14" width="22.15" height="29.47" fill="#FF3200"/>
<rect x="416.2" y="383.61" width="22.15" height="29.47" fill="#F8A80A"/>
<rect x="438.35" y="383.61" width="44.3" height="29.47" fill="#F5CD0A"/>
<rect x="482.65" y="383.61" width="66.45" height="29.47" fill="#FFFF0A"/>
<rect x="549.1" y="383.61" width="66.45" height="29.47" fill="#F5CD0A"/>
<rect x="615.55" y="383.61" width="22.15" height="29.47" fill="#F8A80A"/>
<rect x="637.7" y="383.61" width="44.3" height="29.47" fill="#FF780A"/>
<rect x="416.2" y="413.09" width="22.15" height="29.47" fill="#F8A80A"/>
<rect x="438.35" y="413.09" width="44.3" height="29.47" fill="#F5CD0A"/>
<rect x="482.65" y="413.09" width="66.45" height="29.47" fill="#FFFF0A"/>
<rect x="549.1" y="413.09" width="66.45" height="29.47" fill="#F5CD0A"/>
<rect x="615.55" y="413.09" width="44.3" height="29.47" fill="#F8A80A"/>
<rect x="659.85" y="413.09" width="22.15" height="29.47" fill="#FF780A"/>
<rect x="416.2" y="442.56" width="22.15" height="29.47" fill="#FF780A"/>
<rect x="438.35" y="442.56" width="22.15" height="29.47" fill="#F8A80A"/>
<rect x="460.5" y="442.56" width="44.3" height="29.47" fill="#F5CD0A"/>
<rect x="504.8" y="442.56" width="66.45" height="29.47" fill="#FFFF0A"/>
<rect x="571.25" y="442.56" width="66.45" height="29.47" fill="#F5CD0A"/>
<rect x="637.7" y="442.56" width="44.3" height="29.47" fill="#F8A80A"/>
<rect x="416.2" y="472.03" width="22.15" height="29.47" fill="#FF780A"/>
<rect x="438.35" y="472.03" width="22.15" height="29.47" fill="#F8A80A"/>
<rect x="460.5" y="472.03" width="44.3" height="29.47" fill="#F5CD0A"/>
<rect x="504.8" y="472.03" width="66.45" height="29.47" fill="#FFFF0A"/>
<rect x="571.25" y="472.03" width="66.45" height="29.47" fill="#F5CD0A"/>
<rect x="637.7" y="472.03" width="44.3" height="29.47" fill="#F8A80A"/>
</g>
<g stroke="#b9b9b9" stroke-width="0.9" stroke-dasharray="1.2 2.6" opacity="0.6" fill="none">
<path d="M427.27 295.2V501.5"/>
<path d="M449.43 295.2V501.5"/>
<path d="M471.57 295.2V501.5"/>
<path d="M493.73 295.2V501.5"/>
<path d="M515.88 295.2V501.5"/>
<path d="M538.02 295.2V501.5"/>
<path d="M560.17 295.2V501.5"/>
<path d="M582.33 295.2V501.5"/>
<path d="M604.48 295.2V501.5"/>
<path d="M626.62 295.2V501.5"/>
<path d="M648.77 295.2V501.5"/>
<path d="M670.92 295.2V501.5"/>
<path d="M416.2 309.94H682"/>
<path d="M416.2 339.41H682"/>
<path d="M416.2 368.88H682"/>
<path d="M416.2 398.35H682"/>
<path d="M416.2 427.82H682"/>
<path d="M416.2 457.29H682"/>
<path d="M416.2 486.76H682"/>
</g>
<rect x="416.2" y="295.2" width="265.8" height="206.3" fill="none" stroke="#4a4a4a" stroke-width="1.25"/>
<g stroke="#4a4a4a" stroke-width="1.15">
<path d="M427.27 501.5v3.4"/>
<path d="M449.43 501.5v3.4"/>
<path d="M471.57 501.5v3.4"/>
<path d="M493.73 501.5v3.4"/>
<path d="M515.88 501.5v3.4"/>
<path d="M538.02 501.5v3.4"/>
<path d="M560.17 501.5v3.4"/>
<path d="M582.33 501.5v3.4"/>
<path d="M604.48 501.5v3.4"/>
<path d="M626.62 501.5v3.4"/>
<path d="M648.77 501.5v3.4"/>
<path d="M670.92 501.5v3.4"/>
<path d="M416.2 309.94h-3.4"/>
<path d="M416.2 339.41h-3.4"/>
<path d="M416.2 368.88h-3.4"/>
<path d="M416.2 398.35h-3.4"/>
<path d="M416.2 427.82h-3.4"/>
<path d="M416.2 457.29h-3.4"/>
<path d="M416.2 486.76h-3.4"/>
</g>
<g font-family='"Liberation Sans", sans-serif' font-size="11.6" fill="#2a2a2a" stroke="#2a2a2a" stroke-width="0.3">
<text x="427.57" y="515" text-anchor="middle">−6</text>
<text x="449.73" y="515" text-anchor="middle">−4</text>
<text x="471.88" y="515" text-anchor="middle">−2</text>
<text x="493.73" y="515" text-anchor="middle">0</text>
<text x="515.88" y="515" text-anchor="middle">2</text>
<text x="538.02" y="515" text-anchor="middle">4</text>
<text x="560.17" y="515" text-anchor="middle">6</text>
<text x="582.33" y="515" text-anchor="middle">8</text>
<text x="604.48" y="515" text-anchor="middle">10</text>
<text x="626.62" y="515" text-anchor="middle">12</text>
<text x="648.77" y="515" text-anchor="middle">14</text>
<text x="670.92" y="515" text-anchor="middle">16</text>
<text x="409.9" y="314.14" text-anchor="end">0.012</text>
<text x="409.9" y="343.61" text-anchor="end">0.008</text>
<text x="409.9" y="373.08" text-anchor="end">0.004</text>
<text x="409.9" y="402.55" text-anchor="end">0</text>
<text x="409.9" y="432.02" text-anchor="end">−0.004</text>
<text x="409.9" y="461.49" text-anchor="end">−0.008</text>
<text x="409.9" y="490.96" text-anchor="end">−0.012</text>
</g>
<g font-family='"Liberation Sans", sans-serif' font-size="13" fill="#2a2a2a" stroke="#2a2a2a" stroke-width="0.5" text-anchor="middle">
<text x="543.1" y="531.1" textLength="63.5" lengthAdjust="spacingAndGlyphs">Ts−Ta(K)</text>
<text transform="translate(371.2 402.85) rotate(-90)" textLength="86" lengthAdjust="spacingAndGlyphs">Emi.1−Emi.2</text>
</g>
</g>
<g>
<g shape-rendering="crispEdges">
<rect x="747.9" y="295.2" width="110.33" height="29.59" fill="#A5EBFA"/>
<rect x="858.23" y="295.2" width="22.07" height="29.59" fill="#5AD7FA"/>
<rect x="880.3" y="295.2" width="22.07" height="29.59" fill="#23C8F0"/>
<rect x="902.37" y="295.2" width="44.13" height="29.59" fill="#4B8CFF"/>
<rect x="946.5" y="295.2" width="22.07" height="29.59" fill="#0A66F0"/>
<rect x="968.57" y="295.2" width="44.13" height="29.59" fill="#0A3CDC"/>
<rect x="747.9" y="324.79" width="22.07" height="29.59" fill="#A5EBFA"/>
<rect x="769.97" y="324.79" width="22.07" height="29.59" fill="#5AD7FA"/>
<rect x="792.03" y="324.79" width="66.2" height="29.59" fill="#A5EBFA"/>
<rect x="858.23" y="324.79" width="44.13" height="29.59" fill="#5AD7FA"/>
<rect x="902.37" y="324.79" width="22.07" height="29.59" fill="#23C8F0"/>
<rect x="924.43" y="324.79" width="22.07" height="29.59" fill="#4B8CFF"/>
<rect x="946.5" y="324.79" width="22.07" height="29.59" fill="#0A66F0"/>
<rect x="968.57" y="324.79" width="44.13" height="29.59" fill="#0A3CDC"/>
<rect x="747.9" y="354.37" width="44.13" height="29.59" fill="#5AD7FA"/>
<rect x="792.03" y="354.37" width="66.2" height="29.59" fill="#A5EBFA"/>
<rect x="858.23" y="354.37" width="44.13" height="29.59" fill="#5AD7FA"/>
<rect x="902.37" y="354.37" width="22.07" height="29.59" fill="#23C8F0"/>
<rect x="924.43" y="354.37" width="22.07" height="29.59" fill="#4B8CFF"/>
<rect x="946.5" y="354.37" width="22.07" height="29.59" fill="#0A66F0"/>
<rect x="968.57" y="354.37" width="44.13" height="29.59" fill="#0A3CDC"/>
<rect x="747.9" y="383.96" width="66.2" height="29.59" fill="#5AD7FA"/>
<rect x="814.1" y="383.96" width="44.13" height="29.59" fill="#A5EBFA"/>
<rect x="858.23" y="383.96" width="44.13" height="29.59" fill="#5AD7FA"/>
<rect x="902.37" y="383.96" width="22.07" height="29.59" fill="#23C8F0"/>
<rect x="924.43" y="383.96" width="22.07" height="29.59" fill="#4B8CFF"/>
<rect x="946.5" y="383.96" width="44.13" height="29.59" fill="#0A66F0"/>
<rect x="990.63" y="383.96" width="22.07" height="29.59" fill="#0A3CDC"/>
<rect x="747.9" y="413.54" width="44.13" height="29.59" fill="#23C8F0"/>
<rect x="792.03" y="413.54" width="110.33" height="29.59" fill="#5AD7FA"/>
<rect x="902.37" y="413.54" width="22.07" height="29.59" fill="#23C8F0"/>
<rect x="924.43" y="413.54" width="22.07" height="29.59" fill="#4B8CFF"/>
<rect x="946.5" y="413.54" width="44.13" height="29.59" fill="#0A66F0"/>
<rect x="990.63" y="413.54" width="22.07" height="29.59" fill="#0A3CDC"/>
<rect x="747.9" y="443.13" width="44.13" height="29.59" fill="#4B8CFF"/>
<rect x="792.03" y="443.13" width="22.07" height="29.59" fill="#23C8F0"/>
<rect x="814.1" y="443.13" width="66.2" height="29.59" fill="#5AD7FA"/>
<rect x="880.3" y="443.13" width="44.13" height="29.59" fill="#23C8F0"/>
<rect x="924.43" y="443.13" width="22.07" height="29.59" fill="#4B8CFF"/>
<rect x="946.5" y="443.13" width="44.13" height="29.59" fill="#0A66F0"/>
<rect x="990.63" y="443.13" width="22.07" height="29.59" fill="#0A3CDC"/>
<rect x="747.9" y="472.71" width="22.07" height="29.59" fill="#4B8CFF"/>
<rect x="769.97" y="472.71" width="22.07" height="29.59" fill="#0A66F0"/>
<rect x="792.03" y="472.71" width="22.07" height="29.59" fill="#4B8CFF"/>
<rect x="814.1" y="472.71" width="22.07" height="29.59" fill="#23C8F0"/>
<rect x="836.17" y="472.71" width="22.07" height="29.59" fill="#5AD7FA"/>
<rect x="858.23" y="472.71" width="66.2" height="29.59" fill="#23C8F0"/>
<rect x="924.43" y="472.71" width="22.07" height="29.59" fill="#4B8CFF"/>
<rect x="946.5" y="472.71" width="44.13" height="29.59" fill="#0A66F0"/>
<rect x="990.63" y="472.71" width="22.07" height="29.59" fill="#0A3CDC"/>
</g>
<g stroke="#e3a9a9" stroke-width="0.9" stroke-dasharray="1.2 2.6" opacity="0.42" fill="none">
<path d="M758.93 295.2V502.3"/>
<path d="M781 295.2V502.3"/>
<path d="M803.07 295.2V502.3"/>
<path d="M825.13 295.2V502.3"/>
<path d="M847.2 295.2V502.3"/>
<path d="M869.27 295.2V502.3"/>
<path d="M891.33 295.2V502.3"/>
<path d="M913.4 295.2V502.3"/>
<path d="M935.47 295.2V502.3"/>
<path d="M957.53 295.2V502.3"/>
<path d="M979.6 295.2V502.3"/>
<path d="M1001.67 295.2V502.3"/>
<path d="M747.9 309.99H1012.7"/>
<path d="M747.9 339.58H1012.7"/>
<path d="M747.9 369.16H1012.7"/>
<path d="M747.9 398.75H1012.7"/>
<path d="M747.9 428.34H1012.7"/>
<path d="M747.9 457.92H1012.7"/>
<path d="M747.9 487.51H1012.7"/>
</g>
<g fill="none" stroke-width="1.2">
<circle cx="758.93" cy="309.99" r="2.95" stroke="rgba(15,25,45,0.55)"/>
<circle cx="781" cy="309.99" r="3.76" stroke="rgba(15,25,45,0.55)"/>
<circle cx="803.07" cy="309.99" r="3.76" stroke="rgba(15,25,45,0.55)"/>
<circle cx="825.13" cy="309.99" r="3.49" stroke="rgba(15,25,45,0.55)"/>
<circle cx="847.2" cy="309.99" r="3.49" stroke="rgba(15,25,45,0.55)"/>
<circle cx="869.27" cy="309.99" r="4.03" stroke="rgba(15,25,45,0.55)"/>
<circle cx="891.33" cy="309.99" r="4.56" stroke="rgba(15,25,45,0.55)"/>
<circle cx="913.4" cy="309.99" r="4.56" stroke="rgba(15,25,45,0.55)"/>
<circle cx="935.47" cy="309.99" r="4.56" stroke="rgba(15,25,45,0.55)"/>
<circle cx="957.53" cy="309.99" r="4.83" stroke="rgba(15,25,45,0.55)"/>
<circle cx="979.6" cy="309.99" r="4.83" stroke="rgba(15,25,45,0.55)"/>
<circle cx="1001.67" cy="309.99" r="4.83" stroke="rgba(15,25,45,0.55)"/>
<circle cx="758.93" cy="339.58" r="3.22" stroke="rgba(15,25,45,0.55)"/>
<circle cx="781" cy="339.58" r="4.03" stroke="rgba(15,25,45,0.55)"/>
<circle cx="803.07" cy="339.58" r="3.49" stroke="rgba(15,25,45,0.55)"/>
<circle cx="825.13" cy="339.58" r="3.49" stroke="rgba(15,25,45,0.55)"/>
<circle cx="847.2" cy="339.58" r="3.49" stroke="rgba(15,25,45,0.55)"/>
<circle cx="869.27" cy="339.58" r="4.03" stroke="rgba(15,25,45,0.55)"/>
<circle cx="891.33" cy="339.58" r="4.3" stroke="rgba(15,25,45,0.55)"/>
<circle cx="913.4" cy="339.58" r="4.83" stroke="rgba(15,25,45,0.55)"/>
<circle cx="935.47" cy="339.58" r="4.83" stroke="rgba(15,25,45,0.55)"/>
<circle cx="957.53" cy="339.58" r="5.1" stroke="rgba(15,25,45,0.55)"/>
<circle cx="979.6" cy="339.58" r="5.1" stroke="rgba(15,25,45,0.55)"/>
<circle cx="1001.67" cy="339.58" r="5.1" stroke="rgba(15,25,45,0.55)"/>
<circle cx="758.93" cy="369.16" r="3.76" stroke="rgba(15,25,45,0.55)"/>
<circle cx="781" cy="369.16" r="4.03" stroke="rgba(15,25,45,0.55)"/>
<circle cx="803.07" cy="369.16" r="3.76" stroke="rgba(15,25,45,0.55)"/>
<circle cx="825.13" cy="369.16" r="3.49" stroke="rgba(15,25,45,0.55)"/>
<circle cx="847.2" cy="369.16" r="3.49" stroke="rgba(15,25,45,0.55)"/>
<circle cx="869.27" cy="369.16" r="4.03" stroke="rgba(15,25,45,0.55)"/>
<circle cx="891.33" cy="369.16" r="4.3" stroke="rgba(15,25,45,0.55)"/>
<circle cx="913.4" cy="369.16" r="4.83" stroke="rgba(15,25,45,0.55)"/>
<circle cx="935.47" cy="369.16" r="5.1" stroke="rgba(15,25,45,0.55)"/>
<circle cx="957.53" cy="369.16" r="5.1" stroke="rgba(15,25,45,0.55)"/>
<circle cx="979.6" cy="369.16" r="5.1" stroke="rgba(15,25,45,0.55)"/>
<circle cx="1001.67" cy="369.16" r="5.1" stroke="rgba(15,25,45,0.55)"/>
<circle cx="758.93" cy="398.75" r="4.03" stroke="rgba(15,25,45,0.55)"/>
<circle cx="781" cy="398.75" r="4.3" stroke="rgba(15,25,45,0.55)"/>
<circle cx="803.07" cy="398.75" r="4.03" stroke="rgba(15,25,45,0.55)"/>
<circle cx="825.13" cy="398.75" r="3.76" stroke="rgba(15,25,45,0.55)"/>
<circle cx="847.2" cy="398.75" r="3.76" stroke="rgba(15,25,45,0.55)"/>
<circle cx="869.27" cy="398.75" r="4.3" stroke="rgba(15,25,45,0.55)"/>
<circle cx="891.33" cy="398.75" r="4.56" stroke="rgba(15,25,45,0.55)"/>
<circle cx="913.4" cy="398.75" r="5.1" stroke="rgba(15,25,45,0.55)"/>
<circle cx="935.47" cy="398.75" r="5.1" stroke="rgba(15,25,45,0.55)"/>
<circle cx="957.53" cy="398.75" r="5.1" stroke="rgba(15,25,45,0.55)"/>
<circle cx="979.6" cy="398.75" r="5.1" stroke="rgba(15,25,45,0.55)"/>
<circle cx="1001.67" cy="398.75" r="5.1" stroke="rgba(15,25,45,0.55)"/>
<circle cx="758.93" cy="428.34" r="4.3" stroke="rgba(15,25,45,0.55)"/>
<circle cx="781" cy="428.34" r="4.83" stroke="rgba(15,25,45,0.55)"/>
<circle cx="803.07" cy="428.34" r="4.3" stroke="rgba(15,25,45,0.55)"/>
<circle cx="825.13" cy="428.34" r="4.3" stroke="rgba(15,25,45,0.55)"/>
<circle cx="847.2" cy="428.34" r="4.3" stroke="rgba(15,25,45,0.55)"/>
<circle cx="869.27" cy="428.34" r="4.3" stroke="rgba(15,25,45,0.55)"/>
<circle cx="891.33" cy="428.34" r="4.56" stroke="rgba(15,25,45,0.55)"/>
<circle cx="913.4" cy="428.34" r="5.1" stroke="rgba(15,25,45,0.55)"/>
<circle cx="935.47" cy="428.34" r="5.37" stroke="rgba(15,25,45,0.55)"/>
<circle cx="957.53" cy="428.34" r="5.37" stroke="rgba(15,25,45,0.55)"/>
<circle cx="979.6" cy="428.34" r="5.37" stroke="rgba(15,25,45,0.55)"/>
<circle cx="1001.67" cy="428.34" r="5.37" stroke="rgba(15,25,45,0.55)"/>
<circle cx="758.93" cy="457.92" r="4.56" stroke="rgba(15,25,45,0.55)"/>
<circle cx="781" cy="457.92" r="5.1" stroke="rgba(15,25,45,0.55)"/>
<circle cx="803.07" cy="457.92" r="5.1" stroke="rgba(15,25,45,0.55)"/>
<circle cx="825.13" cy="457.92" r="4.56" stroke="rgba(15,25,45,0.55)"/>
<circle cx="847.2" cy="457.92" r="4.3" stroke="rgba(15,25,45,0.55)"/>
<circle cx="869.27" cy="457.92" r="4.56" stroke="rgba(15,25,45,0.55)"/>
<circle cx="891.33" cy="457.92" r="5.1" stroke="rgba(15,25,45,0.55)"/>
<circle cx="913.4" cy="457.92" r="5.37" stroke="rgba(15,25,45,0.55)"/>
<circle cx="935.47" cy="457.92" r="5.37" stroke="rgba(15,25,45,0.55)"/>
<circle cx="957.53" cy="457.92" r="5.37" stroke="rgba(15,25,45,0.55)"/>
<circle cx="979.6" cy="457.92" r="5.37" stroke="rgba(15,25,45,0.55)"/>
<circle cx="1001.67" cy="457.92" r="5.37" stroke="rgba(15,25,45,0.55)"/>
<circle cx="758.93" cy="487.51" r="4.83" stroke="rgba(15,25,45,0.55)"/>
<circle cx="781" cy="487.51" r="5.37" stroke="rgba(15,25,45,0.55)"/>
<circle cx="803.07" cy="487.51" r="5.37" stroke="rgba(15,25,45,0.55)"/>
<circle cx="825.13" cy="487.51" r="5.1" stroke="rgba(15,25,45,0.55)"/>
<circle cx="847.2" cy="487.51" r="4.56" stroke="rgba(15,25,45,0.55)"/>
<circle cx="869.27" cy="487.51" r="5.37" stroke="rgba(15,25,45,0.55)"/>
<circle cx="891.33" cy="487.51" r="5.37" stroke="rgba(15,25,45,0.55)"/>
<circle cx="913.4" cy="487.51" r="5.37" stroke="rgba(15,25,45,0.55)"/>
<circle cx="935.47" cy="487.51" r="5.64" stroke="rgba(15,25,45,0.55)"/>
<circle cx="957.53" cy="487.51" r="5.64" stroke="rgba(15,25,45,0.55)"/>
<circle cx="979.6" cy="487.51" r="5.64" stroke="rgba(15,25,45,0.55)"/>
<circle cx="1001.67" cy="487.51" r="5.64" stroke="rgba(15,25,45,0.55)"/>
</g>
<rect x="747.9" y="295.2" width="264.8" height="207.1" fill="none" stroke="#4a4a4a" stroke-width="1.25"/>
<g stroke="#4a4a4a" stroke-width="1.15">
<path d="M758.93 502.3v3.4"/>
<path d="M781 502.3v3.4"/>
<path d="M803.07 502.3v3.4"/>
<path d="M825.13 502.3v3.4"/>
<path d="M847.2 502.3v3.4"/>
<path d="M869.27 502.3v3.4"/>
<path d="M891.33 502.3v3.4"/>
<path d="M913.4 502.3v3.4"/>
<path d="M935.47 502.3v3.4"/>
<path d="M957.53 502.3v3.4"/>
<path d="M979.6 502.3v3.4"/>
<path d="M1001.67 502.3v3.4"/>
<path d="M747.9 309.99h-3.4"/>
<path d="M747.9 339.58h-3.4"/>
<path d="M747.9 369.16h-3.4"/>
<path d="M747.9 398.75h-3.4"/>
<path d="M747.9 428.34h-3.4"/>
<path d="M747.9 457.92h-3.4"/>
<path d="M747.9 487.51h-3.4"/>
</g>
<g font-family='"Liberation Sans", sans-serif' font-size="11.6" fill="#2a2a2a" stroke="#2a2a2a" stroke-width="0.3">
<text x="759.23" y="515.8" text-anchor="middle">−6</text>
<text x="781.3" y="515.8" text-anchor="middle">−4</text>
<text x="803.37" y="515.8" text-anchor="middle">−2</text>
<text x="825.13" y="515.8" text-anchor="middle">0</text>
<text x="847.2" y="515.8" text-anchor="middle">2</text>
<text x="869.27" y="515.8" text-anchor="middle">4</text>
<text x="891.33" y="515.8" text-anchor="middle">6</text>
<text x="913.4" y="515.8" text-anchor="middle">8</text>
<text x="935.47" y="515.8" text-anchor="middle">10</text>
<text x="957.53" y="515.8" text-anchor="middle">12</text>
<text x="979.6" y="515.8" text-anchor="middle">14</text>
<text x="1001.67" y="515.8" text-anchor="middle">16</text>
<text x="741.6" y="314.19" text-anchor="end">0.012</text>
<text x="741.6" y="343.78" text-anchor="end">0.008</text>
<text x="741.6" y="373.36" text-anchor="end">0.004</text>
<text x="741.6" y="402.95" text-anchor="end">0</text>
<text x="741.6" y="432.54" text-anchor="end">−0.004</text>
<text x="741.6" y="462.12" text-anchor="end">−0.008</text>
<text x="741.6" y="491.71" text-anchor="end">−0.012</text>
</g>
<g font-family='"Liberation Sans", sans-serif' font-size="13" fill="#2a2a2a" stroke="#2a2a2a" stroke-width="0.5" text-anchor="middle">
<text x="872.8" y="531.9" textLength="63.5" lengthAdjust="spacingAndGlyphs">Ts−Ta(K)</text>
<text transform="translate(702.9 403.25) rotate(-90)" textLength="86" lengthAdjust="spacingAndGlyphs">Emi.1−Emi.2</text>
</g>
</g>
<g>
<g shape-rendering="crispEdges">
<rect x="85.6" y="544.7" width="22.1" height="18.92" fill="#FF3200"/>
<rect x="107.7" y="544.7" width="22.1" height="18.92" fill="#F8A80A"/>
<rect x="129.8" y="544.7" width="22.1" height="18.92" fill="#F5CD0A"/>
<rect x="151.9" y="544.7" width="22.1" height="18.92" fill="#FFFF0A"/>
<rect x="174" y="544.7" width="22.1" height="18.92" fill="#F5CD0A"/>
<rect x="196.1" y="544.7" width="22.1" height="18.92" fill="#F8A80A"/>
<rect x="218.2" y="544.7" width="22.1" height="18.92" fill="#FF780A"/>
<rect x="240.3" y="544.7" width="110.5" height="18.92" fill="#DC1400"/>
<rect x="85.6" y="563.62" width="22.1" height="18.92" fill="#FF780A"/>
<rect x="107.7" y="563.62" width="22.1" height="18.92" fill="#F8A80A"/>
<rect x="129.8" y="563.62" width="88.4" height="18.92" fill="#F5CD0A"/>
<rect x="218.2" y="563.62" width="44.2" height="18.92" fill="#F8A80A"/>
<rect x="262.4" y="563.62" width="22.1" height="18.92" fill="#FF780A"/>
<rect x="284.5" y="563.62" width="44.2" height="18.92" fill="#FF3200"/>
<rect x="328.7" y="563.62" width="22.1" height="18.92" fill="#DC1400"/>
<rect x="85.6" y="582.54" width="22.1" height="18.92" fill="#FF3200"/>
<rect x="107.7" y="582.54" width="22.1" height="18.92" fill="#FF780A"/>
<rect x="129.8" y="582.54" width="44.2" height="18.92" fill="#F8A80A"/>
<rect x="174" y="582.54" width="66.3" height="18.92" fill="#F5CD0A"/>
<rect x="240.3" y="582.54" width="44.2" height="18.92" fill="#F8A80A"/>
<rect x="284.5" y="582.54" width="22.1" height="18.92" fill="#FF780A"/>
<rect x="306.6" y="582.54" width="44.2" height="18.92" fill="#FF3200"/>
<rect x="85.6" y="601.45" width="22.1" height="18.92" fill="#F8A80A"/>
<rect x="107.7" y="601.45" width="44.2" height="18.92" fill="#F5CD0A"/>
<rect x="151.9" y="601.45" width="66.3" height="18.92" fill="#FFFF0A"/>
<rect x="218.2" y="601.45" width="44.2" height="18.92" fill="#F5CD0A"/>
<rect x="262.4" y="601.45" width="44.2" height="18.92" fill="#F8A80A"/>
<rect x="306.6" y="601.45" width="22.1" height="18.92" fill="#FF780A"/>
<rect x="328.7" y="601.45" width="22.1" height="18.92" fill="#FF3200"/>
<rect x="85.6" y="620.37" width="110.5" height="18.92" fill="#FFFF0A"/>
<rect x="196.1" y="620.37" width="44.2" height="18.92" fill="#F5CD0A"/>
<rect x="240.3" y="620.37" width="44.2" height="18.92" fill="#F8A80A"/>
<rect x="284.5" y="620.37" width="22.1" height="18.92" fill="#FF780A"/>
<rect x="306.6" y="620.37" width="44.2" height="18.92" fill="#FF3200"/>
<rect x="85.6" y="639.29" width="110.5" height="18.92" fill="#FFFF0A"/>
<rect x="196.1" y="639.29" width="66.3" height="18.92" fill="#F5CD0A"/>
<rect x="262.4" y="639.29" width="22.1" height="18.92" fill="#F8A80A"/>
<rect x="284.5" y="639.29" width="44.2" height="18.92" fill="#FF780A"/>
<rect x="328.7" y="639.29" width="22.1" height="18.92" fill="#FF3200"/>
<rect x="85.6" y="658.21" width="22.1" height="18.92" fill="#F8A80A"/>
<rect x="107.7" y="658.21" width="176.8" height="18.92" fill="#F5CD0A"/>
<rect x="284.5" y="658.21" width="66.3" height="18.92" fill="#F8A80A"/>
<rect x="85.6" y="677.13" width="22.1" height="18.92" fill="#F8A80A"/>
<rect x="107.7" y="677.13" width="22.1" height="18.92" fill="#F5CD0A"/>
<rect x="129.8" y="677.13" width="22.1" height="18.92" fill="#FFFF0A"/>
<rect x="151.9" y="677.13" width="44.2" height="18.92" fill="#F4F520"/>
<rect x="196.1" y="677.13" width="44.2" height="18.92" fill="#FFFF0A"/>
<rect x="240.3" y="677.13" width="44.2" height="18.92" fill="#F5CD0A"/>
<rect x="284.5" y="677.13" width="22.1" height="18.92" fill="#F8A80A"/>
<rect x="306.6" y="677.13" width="44.2" height="18.92" fill="#FF780A"/>
<rect x="85.6" y="696.05" width="44.2" height="18.92" fill="#F8A80A"/>
<rect x="129.8" y="696.05" width="110.5" height="18.92" fill="#F5CD0A"/>
<rect x="240.3" y="696.05" width="44.2" height="18.92" fill="#F8A80A"/>
<rect x="284.5" y="696.05" width="22.1" height="18.92" fill="#FF780A"/>
<rect x="306.6" y="696.05" width="22.1" height="18.92" fill="#FF3200"/>
<rect x="328.7" y="696.05" width="22.1" height="18.92" fill="#DC1400"/>
</g>
<g stroke="#b9b9b9" stroke-width="0.9" stroke-dasharray="1.2 2.6" opacity="0.6" fill="none">
<path d="M96.65 544.7V752.8"/>
<path d="M118.75 544.7V752.8"/>
<path d="M140.85 544.7V752.8"/>
<path d="M162.95 544.7V752.8"/>
<path d="M185.05 544.7V752.8"/>
<path d="M207.15 544.7V752.8"/>
<path d="M229.25 544.7V752.8"/>
<path d="M251.35 544.7V752.8"/>
<path d="M273.45 544.7V752.8"/>
<path d="M295.55 544.7V752.8"/>
<path d="M317.65 544.7V752.8"/>
<path d="M339.75 544.7V752.8"/>
<path d="M85.6 554.16H350.8"/>
<path d="M85.6 592H350.8"/>
<path d="M85.6 629.83H350.8"/>
<path d="M85.6 667.67H350.8"/>
<path d="M85.6 705.5H350.8"/>
<path d="M85.6 743.34H350.8"/>
</g>
<rect x="85.6" y="544.7" width="265.2" height="208.1" fill="none" stroke="#4a4a4a" stroke-width="1.25"/>
<g stroke="#4a4a4a" stroke-width="1.15">
<path d="M96.65 752.8v3.4"/>
<path d="M118.75 752.8v3.4"/>
<path d="M140.85 752.8v3.4"/>
<path d="M162.95 752.8v3.4"/>
<path d="M185.05 752.8v3.4"/>
<path d="M207.15 752.8v3.4"/>
<path d="M229.25 752.8v3.4"/>
<path d="M251.35 752.8v3.4"/>
<path d="M273.45 752.8v3.4"/>
<path d="M295.55 752.8v3.4"/>
<path d="M317.65 752.8v3.4"/>
<path d="M339.75 752.8v3.4"/>
<path d="M85.6 554.16h-3.4"/>
<path d="M85.6 592h-3.4"/>
<path d="M85.6 629.83h-3.4"/>
<path d="M85.6 667.67h-3.4"/>
<path d="M85.6 705.5h-3.4"/>
<path d="M85.6 743.34h-3.4"/>
</g>
<g font-family='"Liberation Sans", sans-serif' font-size="11.6" fill="#2a2a2a" stroke="#2a2a2a" stroke-width="0.3">
<text x="96.95" y="766.3" text-anchor="middle">−6</text>
<text x="119.05" y="766.3" text-anchor="middle">−4</text>
<text x="141.15" y="766.3" text-anchor="middle">−2</text>
<text x="162.95" y="766.3" text-anchor="middle">0</text>
<text x="185.05" y="766.3" text-anchor="middle">2</text>
<text x="207.15" y="766.3" text-anchor="middle">4</text>
<text x="229.25" y="766.3" text-anchor="middle">6</text>
<text x="251.35" y="766.3" text-anchor="middle">8</text>
<text x="273.45" y="766.3" text-anchor="middle">10</text>
<text x="295.55" y="766.3" text-anchor="middle">12</text>
<text x="317.65" y="766.3" text-anchor="middle">14</text>
<text x="339.75" y="766.3" text-anchor="middle">16</text>
<text x="79.3" y="558.36" text-anchor="end">50</text>
<text x="79.3" y="596.2" text-anchor="end">40</text>
<text x="79.3" y="634.03" text-anchor="end">30</text>
<text x="79.3" y="671.87" text-anchor="end">20</text>
<text x="79.3" y="709.7" text-anchor="end">10</text>
<text x="79.3" y="747.54" text-anchor="end">0</text>
</g>
<g font-family='"Liberation Sans", sans-serif' font-size="13" fill="#2a2a2a" stroke="#2a2a2a" stroke-width="0.5" text-anchor="middle">
<text x="212.2" y="782.4" textLength="63.5" lengthAdjust="spacingAndGlyphs">Ts−Ta(K)</text>
<text transform="translate(53.1 653.25) rotate(-90)" textLength="25.5" lengthAdjust="spacingAndGlyphs">SZA</text>
</g>
</g>
<g>
<g shape-rendering="crispEdges">
<rect x="416.4" y="544.7" width="22.04" height="18.92" fill="#F8A80A"/>
<rect x="438.44" y="544.7" width="22.04" height="18.92" fill="#F5CD0A"/>
<rect x="460.48" y="544.7" width="66.13" height="18.92" fill="#FFFF0A"/>
<rect x="526.61" y="544.7" width="22.04" height="18.92" fill="#F5CD0A"/>
<rect x="548.65" y="544.7" width="22.04" height="18.92" fill="#F8A80A"/>
<rect x="570.69" y="544.7" width="22.04" height="18.92" fill="#FF780A"/>
<rect x="592.73" y="544.7" width="22.04" height="18.92" fill="#FF3200"/>
<rect x="614.77" y="544.7" width="66.12" height="18.92" fill="#DC1400"/>
<rect x="416.4" y="563.62" width="22.04" height="18.92" fill="#F8A80A"/>
<rect x="438.44" y="563.62" width="154.29" height="18.92" fill="#F5CD0A"/>
<rect x="592.73" y="563.62" width="22.04" height="18.92" fill="#F8A80A"/>
<rect x="614.77" y="563.62" width="44.08" height="18.92" fill="#FF780A"/>
<rect x="658.86" y="563.62" width="22.04" height="18.92" fill="#FF3200"/>
<rect x="416.4" y="582.54" width="22.04" height="18.92" fill="#FF3200"/>
<rect x="438.44" y="582.54" width="22.04" height="18.92" fill="#FF780A"/>
<rect x="460.48" y="582.54" width="44.08" height="18.92" fill="#F8A80A"/>
<rect x="504.57" y="582.54" width="110.21" height="18.92" fill="#F5CD0A"/>
<rect x="614.77" y="582.54" width="44.08" height="18.92" fill="#F8A80A"/>
<rect x="658.86" y="582.54" width="22.04" height="18.92" fill="#FF780A"/>
<rect x="416.4" y="601.45" width="22.04" height="18.92" fill="#F8A80A"/>
<rect x="438.44" y="601.45" width="22.04" height="18.92" fill="#F5CD0A"/>
<rect x="460.48" y="601.45" width="88.17" height="18.92" fill="#FFFF0A"/>
<rect x="548.65" y="601.45" width="66.12" height="18.92" fill="#F5CD0A"/>
<rect x="614.77" y="601.45" width="66.12" height="18.92" fill="#F8A80A"/>
<rect x="416.4" y="620.37" width="22.04" height="18.92" fill="#FFFF0A"/>
<rect x="438.44" y="620.37" width="44.08" height="18.92" fill="#F4F520"/>
<rect x="482.52" y="620.37" width="66.12" height="18.92" fill="#FFFF0A"/>
<rect x="548.65" y="620.37" width="44.08" height="18.92" fill="#F5CD0A"/>
<rect x="592.73" y="620.37" width="44.08" height="18.92" fill="#F8A80A"/>
<rect x="636.82" y="620.37" width="22.04" height="18.92" fill="#FF780A"/>
<rect x="658.86" y="620.37" width="22.04" height="18.92" fill="#FF3200"/>
<rect x="416.4" y="639.29" width="44.08" height="18.92" fill="#FFFF0A"/>
<rect x="460.48" y="639.29" width="44.08" height="18.92" fill="#F4F520"/>
<rect x="504.57" y="639.29" width="44.08" height="18.92" fill="#FFFF0A"/>
<rect x="548.65" y="639.29" width="44.08" height="18.92" fill="#F5CD0A"/>
<rect x="592.73" y="639.29" width="66.12" height="18.92" fill="#F8A80A"/>
<rect x="658.86" y="639.29" width="22.04" height="18.92" fill="#FF780A"/>
<rect x="416.4" y="658.21" width="22.04" height="18.92" fill="#F5CD0A"/>
<rect x="438.44" y="658.21" width="44.08" height="18.92" fill="#FFFF0A"/>
<rect x="482.52" y="658.21" width="22.04" height="18.92" fill="#F4F520"/>
<rect x="504.57" y="658.21" width="66.12" height="18.92" fill="#FFFF0A"/>
<rect x="570.69" y="658.21" width="110.21" height="18.92" fill="#F5CD0A"/>
<rect x="416.4" y="677.13" width="22.04" height="18.92" fill="#F5CD0A"/>
<rect x="438.44" y="677.13" width="22.04" height="18.92" fill="#FFFF0A"/>
<rect x="460.48" y="677.13" width="44.08" height="18.92" fill="#96FA50"/>
<rect x="504.57" y="677.13" width="44.08" height="18.92" fill="#F4F520"/>
<rect x="548.65" y="677.13" width="44.08" height="18.92" fill="#FFFF0A"/>
<rect x="592.73" y="677.13" width="44.08" height="18.92" fill="#F5CD0A"/>
<rect x="636.82" y="677.13" width="22.04" height="18.92" fill="#F8A80A"/>
<rect x="658.86" y="677.13" width="22.04" height="18.92" fill="#FF780A"/>
<rect x="416.4" y="696.05" width="22.04" height="18.92" fill="#F5CD0A"/>
<rect x="438.44" y="696.05" width="44.08" height="18.92" fill="#FFFF0A"/>
<rect x="482.52" y="696.05" width="22.04" height="18.92" fill="#F5CD0A"/>
<rect x="504.57" y="696.05" width="110.21" height="18.92" fill="#F8A80A"/>
<rect x="614.77" y="696.05" width="22.04" height="18.92" fill="#F5CD0A"/>
<rect x="636.82" y="696.05" width="44.08" height="18.92" fill="#FFFF0A"/>
</g>
<g stroke="#b9b9b9" stroke-width="0.9" stroke-dasharray="1.2 2.6" opacity="0.6" fill="none">
<path d="M427.42 544.7V752.8"/>
<path d="M449.46 544.7V752.8"/>
<path d="M471.5 544.7V752.8"/>
<path d="M493.55 544.7V752.8"/>
<path d="M515.59 544.7V752.8"/>
<path d="M537.63 544.7V752.8"/>
<path d="M559.67 544.7V752.8"/>
<path d="M581.71 544.7V752.8"/>
<path d="M603.75 544.7V752.8"/>
<path d="M625.8 544.7V752.8"/>
<path d="M647.84 544.7V752.8"/>
<path d="M669.88 544.7V752.8"/>
<path d="M416.4 554.16H680.9"/>
<path d="M416.4 592H680.9"/>
<path d="M416.4 629.83H680.9"/>
<path d="M416.4 667.67H680.9"/>
<path d="M416.4 705.5H680.9"/>
<path d="M416.4 743.34H680.9"/>
</g>
<rect x="416.4" y="544.7" width="264.5" height="208.1" fill="none" stroke="#4a4a4a" stroke-width="1.25"/>
<g stroke="#4a4a4a" stroke-width="1.15">
<path d="M427.42 752.8v3.4"/>
<path d="M449.46 752.8v3.4"/>
<path d="M471.5 752.8v3.4"/>
<path d="M493.55 752.8v3.4"/>
<path d="M515.59 752.8v3.4"/>
<path d="M537.63 752.8v3.4"/>
<path d="M559.67 752.8v3.4"/>
<path d="M581.71 752.8v3.4"/>
<path d="M603.75 752.8v3.4"/>
<path d="M625.8 752.8v3.4"/>
<path d="M647.84 752.8v3.4"/>
<path d="M669.88 752.8v3.4"/>
<path d="M416.4 554.16h-3.4"/>
<path d="M416.4 592h-3.4"/>
<path d="M416.4 629.83h-3.4"/>
<path d="M416.4 667.67h-3.4"/>
<path d="M416.4 705.5h-3.4"/>
<path d="M416.4 743.34h-3.4"/>
</g>
<g font-family='"Liberation Sans", sans-serif' font-size="11.6" fill="#2a2a2a" stroke="#2a2a2a" stroke-width="0.3">
<text x="427.72" y="766.3" text-anchor="middle">−6</text>
<text x="449.76" y="766.3" text-anchor="middle">−4</text>
<text x="471.8" y="766.3" text-anchor="middle">−2</text>
<text x="493.55" y="766.3" text-anchor="middle">0</text>
<text x="515.59" y="766.3" text-anchor="middle">2</text>
<text x="537.63" y="766.3" text-anchor="middle">4</text>
<text x="559.67" y="766.3" text-anchor="middle">6</text>
<text x="581.71" y="766.3" text-anchor="middle">8</text>
<text x="603.75" y="766.3" text-anchor="middle">10</text>
<text x="625.8" y="766.3" text-anchor="middle">12</text>
<text x="647.84" y="766.3" text-anchor="middle">14</text>
<text x="669.88" y="766.3" text-anchor="middle">16</text>
<text x="410.1" y="558.36" text-anchor="end">50</text>
<text x="410.1" y="596.2" text-anchor="end">40</text>
<text x="410.1" y="634.03" text-anchor="end">30</text>
<text x="410.1" y="671.87" text-anchor="end">20</text>
<text x="410.1" y="709.7" text-anchor="end">10</text>
<text x="410.1" y="747.54" text-anchor="end">0</text>
</g>
<g font-family='"Liberation Sans", sans-serif' font-size="13" fill="#2a2a2a" stroke="#2a2a2a" stroke-width="0.5" text-anchor="middle">
<text x="542.65" y="782.4" textLength="63.5" lengthAdjust="spacingAndGlyphs">Ts−Ta(K)</text>
<text transform="translate(383.9 653.25) rotate(-90)" textLength="25.5" lengthAdjust="spacingAndGlyphs">SZA</text>
</g>
</g>
<g>
<g shape-rendering="crispEdges">
<rect x="741.9" y="546" width="66.48" height="18.87" fill="#0A3CDC"/>
<rect x="808.38" y="546" width="22.16" height="18.87" fill="#23C8F0"/>
<rect x="830.53" y="546" width="22.16" height="18.87" fill="#5AD7FA"/>
<rect x="852.69" y="546" width="155.11" height="18.87" fill="#0A3CDC"/>
<rect x="741.9" y="564.87" width="22.16" height="18.87" fill="#4B8CFF"/>
<rect x="764.06" y="564.87" width="22.16" height="18.87" fill="#23C8F0"/>
<rect x="786.22" y="564.87" width="22.16" height="18.87" fill="#5AD7FA"/>
<rect x="808.38" y="564.87" width="44.32" height="18.87" fill="#A5EBFA"/>
<rect x="852.69" y="564.87" width="22.16" height="18.87" fill="#5AD7FA"/>
<rect x="874.85" y="564.87" width="22.16" height="18.87" fill="#23C8F0"/>
<rect x="897.01" y="564.87" width="110.79" height="18.87" fill="#0A66F0"/>
<rect x="741.9" y="583.75" width="22.16" height="18.87" fill="#5AD7FA"/>
<rect x="764.06" y="583.75" width="88.63" height="18.87" fill="#A5EBFA"/>
<rect x="852.69" y="583.75" width="22.16" height="18.87" fill="#5AD7FA"/>
<rect x="874.85" y="583.75" width="22.16" height="18.87" fill="#23C8F0"/>
<rect x="897.01" y="583.75" width="22.16" height="18.87" fill="#4B8CFF"/>
<rect x="919.17" y="583.75" width="22.16" height="18.87" fill="#0A66F0"/>
<rect x="941.32" y="583.75" width="66.48" height="18.87" fill="#0A3CDC"/>
<rect x="741.9" y="602.62" width="22.16" height="18.87" fill="#5AD7FA"/>
<rect x="764.06" y="602.62" width="44.32" height="18.87" fill="#23C8F0"/>
<rect x="808.38" y="602.62" width="22.16" height="18.87" fill="#5AD7FA"/>
<rect x="830.53" y="602.62" width="44.32" height="18.87" fill="#A5EBFA"/>
<rect x="874.85" y="602.62" width="22.16" height="18.87" fill="#C8FAFF"/>
<rect x="897.01" y="602.62" width="22.16" height="18.87" fill="#A5EBFA"/>
<rect x="919.17" y="602.62" width="22.16" height="18.87" fill="#5AD7FA"/>
<rect x="941.32" y="602.62" width="22.16" height="18.87" fill="#23C8F0"/>
<rect x="963.48" y="602.62" width="22.16" height="18.87" fill="#0A66F0"/>
<rect x="985.64" y="602.62" width="22.16" height="18.87" fill="#0A3CDC"/>
<rect x="741.9" y="621.49" width="44.32" height="18.87" fill="#4B8CFF"/>
<rect x="786.22" y="621.49" width="88.63" height="18.87" fill="#5AD7FA"/>
<rect x="874.85" y="621.49" width="44.32" height="18.87" fill="#23C8F0"/>
<rect x="919.17" y="621.49" width="88.63" height="18.87" fill="#4B8CFF"/>
<rect x="741.9" y="640.36" width="22.16" height="18.87" fill="#C8FAFF"/>
<rect x="764.06" y="640.36" width="22.16" height="18.87" fill="#5AD7FA"/>
<rect x="786.22" y="640.36" width="22.16" height="18.87" fill="#23C8F0"/>
<rect x="808.38" y="640.36" width="44.32" height="18.87" fill="#4B8CFF"/>
<rect x="852.69" y="640.36" width="22.16" height="18.87" fill="#23C8F0"/>
<rect x="874.85" y="640.36" width="22.16" height="18.87" fill="#5AD7FA"/>
<rect x="897.01" y="640.36" width="22.16" height="18.87" fill="#A5EBFA"/>
<rect x="919.17" y="640.36" width="22.16" height="18.87" fill="#5AD7FA"/>
<rect x="941.32" y="640.36" width="22.16" height="18.87" fill="#23C8F0"/>
<rect x="963.48" y="640.36" width="22.16" height="18.87" fill="#0A66F0"/>
<rect x="985.64" y="640.36" width="22.16" height="18.87" fill="#0A3CDC"/>
<rect x="741.9" y="659.24" width="22.16" height="18.87" fill="#0A66F0"/>
<rect x="764.06" y="659.24" width="88.63" height="18.87" fill="#0A3CDC"/>
<rect x="852.69" y="659.24" width="22.16" height="18.87" fill="#0A66F0"/>
<rect x="874.85" y="659.24" width="22.16" height="18.87" fill="#4B8CFF"/>
<rect x="897.01" y="659.24" width="22.16" height="18.87" fill="#23C8F0"/>
<rect x="919.17" y="659.24" width="44.32" height="18.87" fill="#4B8CFF"/>
<rect x="963.48" y="659.24" width="22.16" height="18.87" fill="#0A66F0"/>
<rect x="985.64" y="659.24" width="22.16" height="18.87" fill="#0A3CDC"/>
<rect x="741.9" y="678.11" width="22.16" height="18.87" fill="#0A66F0"/>
<rect x="764.06" y="678.11" width="44.32" height="18.87" fill="#0A3CDC"/>
<rect x="808.38" y="678.11" width="22.16" height="18.87" fill="#4B8CFF"/>
<rect x="830.53" y="678.11" width="22.16" height="18.87" fill="#5AD7FA"/>
<rect x="852.69" y="678.11" width="22.16" height="18.87" fill="#A5EBFA"/>
<rect x="874.85" y="678.11" width="22.16" height="18.87" fill="#5AD7FA"/>
<rect x="897.01" y="678.11" width="22.16" height="18.87" fill="#23C8F0"/>
<rect x="919.17" y="678.11" width="44.32" height="18.87" fill="#4B8CFF"/>
<rect x="963.48" y="678.11" width="22.16" height="18.87" fill="#23C8F0"/>
<rect x="985.64" y="678.11" width="22.16" height="18.87" fill="#C8FAFF"/>
<rect x="741.9" y="696.98" width="66.48" height="18.87" fill="#0A3CDC"/>
<rect x="808.38" y="696.98" width="22.16" height="18.87" fill="#5AD7FA"/>
<rect x="830.53" y="696.98" width="66.48" height="18.87" fill="#FF780A"/>
<rect x="897.01" y="696.98" width="22.16" height="18.87" fill="#C8FA6E"/>
<rect x="919.17" y="696.98" width="22.16" height="18.87" fill="#4B8CFF"/>
<rect x="941.32" y="696.98" width="66.48" height="18.87" fill="#0A3CDC"/>
</g>
<g stroke="#e3a9a9" stroke-width="0.9" stroke-dasharray="1.2 2.6" opacity="0.42" fill="none">
<path d="M752.98 546V753.6"/>
<path d="M775.14 546V753.6"/>
<path d="M797.3 546V753.6"/>
<path d="M819.45 546V753.6"/>
<path d="M841.61 546V753.6"/>
<path d="M863.77 546V753.6"/>
<path d="M885.93 546V753.6"/>
<path d="M908.09 546V753.6"/>
<path d="M930.25 546V753.6"/>
<path d="M952.4 546V753.6"/>
<path d="M974.56 546V753.6"/>
<path d="M996.72 546V753.6"/>
<path d="M741.9 555.44H1007.8"/>
<path d="M741.9 593.18H1007.8"/>
<path d="M741.9 630.93H1007.8"/>
<path d="M741.9 668.67H1007.8"/>
<path d="M741.9 706.42H1007.8"/>
<path d="M741.9 744.16H1007.8"/>
</g>
<g fill="none" stroke-width="1.2">
<circle cx="752.98" cy="555.44" r="6.04" stroke="rgba(15,25,45,0.55)"/>
<circle cx="775.14" cy="555.44" r="6.44" stroke="rgba(15,25,45,0.55)"/>
<circle cx="797.3" cy="555.44" r="6.71" stroke="rgba(15,25,45,0.55)"/>
<circle cx="819.45" cy="555.44" r="6.44" stroke="rgba(15,25,45,0.55)"/>
<circle cx="841.61" cy="555.44" r="4.3" stroke="rgba(15,25,45,0.55)"/>
<circle cx="863.77" cy="555.44" r="5.37" stroke="rgba(15,25,45,0.55)"/>
<circle cx="885.93" cy="555.44" r="5.37" stroke="rgba(15,25,45,0.55)"/>
<circle cx="908.09" cy="555.44" r="5.37" stroke="rgba(15,25,45,0.55)"/>
<circle cx="930.25" cy="555.44" r="5.37" stroke="rgba(15,25,45,0.55)"/>
<circle cx="952.4" cy="555.44" r="5.37" stroke="rgba(15,25,45,0.55)"/>
<circle cx="974.56" cy="555.44" r="5.37" stroke="rgba(15,25,45,0.55)"/>
<circle cx="996.72" cy="555.44" r="5.37" stroke="rgba(15,25,45,0.55)"/>
<circle cx="752.98" cy="574.31" r="4.83" stroke="rgba(15,25,45,0.55)"/>
<circle cx="775.14" cy="574.31" r="4.83" stroke="rgba(15,25,45,0.55)"/>
<circle cx="797.3" cy="574.31" r="4.03" stroke="rgba(15,25,45,0.55)"/>
<circle cx="819.45" cy="574.31" r="2.69" stroke="rgba(15,25,45,0.55)"/>
<circle cx="841.61" cy="574.31" r="2.95" stroke="rgba(15,25,45,0.55)"/>
<circle cx="863.77" cy="574.31" r="4.03" stroke="rgba(15,25,45,0.55)"/>
<circle cx="885.93" cy="574.31" r="4.83" stroke="rgba(15,25,45,0.55)"/>
<circle cx="908.09" cy="574.31" r="4.83" stroke="rgba(15,25,45,0.55)"/>
<circle cx="930.25" cy="574.31" r="4.83" stroke="rgba(15,25,45,0.55)"/>
<circle cx="952.4" cy="574.31" r="4.56" stroke="rgba(15,25,45,0.55)"/>
<circle cx="974.56" cy="574.31" r="4.3" stroke="rgba(15,25,45,0.55)"/>
<circle cx="996.72" cy="574.31" r="4.3" stroke="rgba(15,25,45,0.55)"/>
<circle cx="752.98" cy="593.18" r="2.95" stroke="rgba(15,25,45,0.55)"/>
<circle cx="775.14" cy="593.18" r="2.95" stroke="rgba(15,25,45,0.55)"/>
<circle cx="797.3" cy="593.18" r="2.95" stroke="rgba(15,25,45,0.55)"/>
<circle cx="819.45" cy="593.18" r="2.69" stroke="rgba(15,25,45,0.55)"/>
<circle cx="841.61" cy="593.18" r="2.95" stroke="rgba(15,25,45,0.55)"/>
<circle cx="863.77" cy="593.18" r="4.03" stroke="rgba(15,25,45,0.55)"/>
<circle cx="885.93" cy="593.18" r="5.1" stroke="rgba(15,25,45,0.55)"/>
<circle cx="908.09" cy="593.18" r="5.64" stroke="rgba(15,25,45,0.55)"/>
<circle cx="930.25" cy="593.18" r="5.1" stroke="rgba(15,25,45,0.55)"/>
<circle cx="952.4" cy="593.18" r="5.37" stroke="rgba(15,25,45,0.55)"/>
<circle cx="974.56" cy="593.18" r="5.37" stroke="rgba(15,25,45,0.55)"/>
<circle cx="996.72" cy="593.18" r="5.37" stroke="rgba(15,25,45,0.55)"/>
<circle cx="752.98" cy="612.05" r="3.76" stroke="rgba(15,25,45,0.55)"/>
<circle cx="775.14" cy="612.05" r="4.83" stroke="rgba(15,25,45,0.55)"/>
<circle cx="797.3" cy="612.05" r="5.37" stroke="rgba(15,25,45,0.55)"/>
<circle cx="819.45" cy="612.05" r="5.37" stroke="rgba(15,25,45,0.55)"/>
<circle cx="841.61" cy="612.05" r="4.03" stroke="rgba(15,25,45,0.55)"/>
<circle cx="863.77" cy="612.05" r="2.95" stroke="rgba(15,25,45,0.55)"/>
<circle cx="885.93" cy="612.05" r="2.42" stroke="rgba(15,25,45,0.55)"/>
<circle cx="908.09" cy="612.05" r="2.95" stroke="rgba(15,25,45,0.55)"/>
<circle cx="930.25" cy="612.05" r="3.76" stroke="rgba(15,25,45,0.55)"/>
<circle cx="952.4" cy="612.05" r="4.83" stroke="rgba(15,25,45,0.55)"/>
<circle cx="974.56" cy="612.05" r="5.1" stroke="rgba(15,25,45,0.55)"/>
<circle cx="996.72" cy="612.05" r="5.37" stroke="rgba(15,25,45,0.55)"/>
<circle cx="752.98" cy="630.93" r="6.71" stroke="rgba(15,25,45,0.55)"/>
<circle cx="775.14" cy="630.93" r="6.98" stroke="rgba(15,25,45,0.55)"/>
<circle cx="797.3" cy="630.93" r="5.91" stroke="rgba(15,25,45,0.55)"/>
<circle cx="819.45" cy="630.93" r="5.64" stroke="rgba(15,25,45,0.55)"/>
<circle cx="841.61" cy="630.93" r="5.37" stroke="rgba(15,25,45,0.55)"/>
<circle cx="863.77" cy="630.93" r="5.1" stroke="rgba(15,25,45,0.55)"/>
<circle cx="885.93" cy="630.93" r="4.83" stroke="rgba(15,25,45,0.55)"/>
<circle cx="908.09" cy="630.93" r="4.83" stroke="rgba(15,25,45,0.55)"/>
<circle cx="930.25" cy="630.93" r="4.83" stroke="rgba(15,25,45,0.55)"/>
<circle cx="952.4" cy="630.93" r="4.3" stroke="rgba(15,25,45,0.55)"/>
<circle cx="974.56" cy="630.93" r="4.3" stroke="rgba(15,25,45,0.55)"/>
<circle cx="996.72" cy="630.93" r="4.3" stroke="rgba(15,25,45,0.55)"/>
<circle cx="752.98" cy="649.8" r="2.95" stroke="rgba(15,25,45,0.55)"/>
<circle cx="775.14" cy="649.8" r="5.37" stroke="rgba(15,25,45,0.55)"/>
<circle cx="797.3" cy="649.8" r="5.91" stroke="rgba(15,25,45,0.55)"/>
<circle cx="819.45" cy="649.8" r="7.25" stroke="rgba(15,25,45,0.55)"/>
<circle cx="841.61" cy="649.8" r="6.98" stroke="rgba(15,25,45,0.55)"/>
<circle cx="863.77" cy="649.8" r="5.64" stroke="rgba(15,25,45,0.55)"/>
<circle cx="885.93" cy="649.8" r="4.03" stroke="rgba(15,25,45,0.55)"/>
<circle cx="908.09" cy="649.8" r="3.49" stroke="rgba(15,25,45,0.55)"/>
<circle cx="930.25" cy="649.8" r="3.76" stroke="rgba(15,25,45,0.55)"/>
<circle cx="952.4" cy="649.8" r="4.3" stroke="rgba(15,25,45,0.55)"/>
<circle cx="974.56" cy="649.8" r="4.83" stroke="rgba(15,25,45,0.55)"/>
<circle cx="996.72" cy="649.8" r="5.37" stroke="rgba(15,25,45,0.55)"/>
<circle cx="752.98" cy="668.67" r="5.1" stroke="rgba(15,25,45,0.55)"/>
<circle cx="775.14" cy="668.67" r="7.52" stroke="rgba(15,25,45,0.55)"/>
<circle cx="797.3" cy="668.67" r="8.59" stroke="rgba(15,25,45,0.55)"/>
<circle cx="819.45" cy="668.67" r="8.32" stroke="rgba(15,25,45,0.55)"/>
<circle cx="841.61" cy="668.67" r="7.79" stroke="rgba(15,25,45,0.55)"/>
<circle cx="863.77" cy="668.67" r="6.71" stroke="rgba(15,25,45,0.55)"/>
<circle cx="885.93" cy="668.67" r="5.64" stroke="rgba(15,25,45,0.55)"/>
<circle cx="908.09" cy="668.67" r="5.37" stroke="rgba(15,25,45,0.55)"/>
<circle cx="930.25" cy="668.67" r="5.64" stroke="rgba(15,25,45,0.55)"/>
<circle cx="952.4" cy="668.67" r="5.64" stroke="rgba(15,25,45,0.55)"/>
<circle cx="974.56" cy="668.67" r="5.64" stroke="rgba(15,25,45,0.55)"/>
<circle cx="996.72" cy="668.67" r="5.64" stroke="rgba(15,25,45,0.55)"/>
<circle cx="752.98" cy="687.55" r="4.83" stroke="rgba(15,25,45,0.55)"/>
<circle cx="775.14" cy="687.55" r="8.32" stroke="rgba(15,25,45,0.55)"/>
<circle cx="797.3" cy="687.55" r="10.2" stroke="rgba(15,25,45,0.55)"/>
<circle cx="819.45" cy="687.55" r="9.4" stroke="rgba(15,25,45,0.55)"/>
<circle cx="841.61" cy="687.55" r="6.18" stroke="rgba(15,25,45,0.55)"/>
<circle cx="863.77" cy="687.55" r="4.83" stroke="rgba(15,25,45,0.55)"/>
<circle cx="885.93" cy="687.55" r="4.3" stroke="rgba(15,25,45,0.55)"/>
<circle cx="908.09" cy="687.55" r="4.83" stroke="rgba(15,25,45,0.55)"/>
<circle cx="930.25" cy="687.55" r="5.1" stroke="rgba(15,25,45,0.55)"/>
<circle cx="952.4" cy="687.55" r="4.56" stroke="rgba(15,25,45,0.55)"/>
<circle cx="974.56" cy="687.55" r="3.49" stroke="rgba(15,25,45,0.55)"/>
<circle cx="996.72" cy="687.55" r="2.42" stroke="rgba(15,25,45,0.55)"/>
<circle cx="752.98" cy="706.42" r="6.71" stroke="rgba(15,25,45,0.55)"/>
<circle cx="775.14" cy="706.42" r="6.71" stroke="rgba(15,25,45,0.55)"/>
<circle cx="797.3" cy="706.42" r="5.91" stroke="rgba(15,25,45,0.55)"/>
<circle cx="819.45" cy="706.42" r="4.03" stroke="rgba(15,25,45,0.55)"/>
<circle cx="841.61" cy="706.42" r="7.52" stroke="rgba(255,85,80,0.62)"/>
<circle cx="863.77" cy="706.42" r="7.52" stroke="rgba(255,85,80,0.62)"/>
<circle cx="885.93" cy="706.42" r="5.91" stroke="rgba(255,85,80,0.62)"/>
<circle cx="908.09" cy="706.42" r="2.15" stroke="rgba(255,85,80,0.62)"/>
<circle cx="930.25" cy="706.42" r="5.1" stroke="rgba(15,25,45,0.55)"/>
<circle cx="952.4" cy="706.42" r="7.52" stroke="rgba(15,25,45,0.55)"/>
<circle cx="974.56" cy="706.42" r="9.4" stroke="rgba(15,25,45,0.55)"/>
<circle cx="996.72" cy="706.42" r="10.74" stroke="rgba(15,25,45,0.55)"/>
</g>
<rect x="741.9" y="546" width="265.9" height="207.6" fill="none" stroke="#4a4a4a" stroke-width="1.25"/>
<g stroke="#4a4a4a" stroke-width="1.15">
<path d="M752.98 753.6v3.4"/>
<path d="M775.14 753.6v3.4"/>
<path d="M797.3 753.6v3.4"/>
<path d="M819.45 753.6v3.4"/>
<path d="M841.61 753.6v3.4"/>
<path d="M863.77 753.6v3.4"/>
<path d="M885.93 753.6v3.4"/>
<path d="M908.09 753.6v3.4"/>
<path d="M930.25 753.6v3.4"/>
<path d="M952.4 753.6v3.4"/>
<path d="M974.56 753.6v3.4"/>
<path d="M996.72 753.6v3.4"/>
<path d="M741.9 555.44h-3.4"/>
<path d="M741.9 593.18h-3.4"/>
<path d="M741.9 630.93h-3.4"/>
<path d="M741.9 668.67h-3.4"/>
<path d="M741.9 706.42h-3.4"/>
<path d="M741.9 744.16h-3.4"/>
</g>
<g font-family='"Liberation Sans", sans-serif' font-size="11.6" fill="#2a2a2a" stroke="#2a2a2a" stroke-width="0.3">
<text x="753.28" y="767.1" text-anchor="middle">−6</text>
<text x="775.44" y="767.1" text-anchor="middle">−4</text>
<text x="797.6" y="767.1" text-anchor="middle">−2</text>
<text x="819.45" y="767.1" text-anchor="middle">0</text>
<text x="841.61" y="767.1" text-anchor="middle">2</text>
<text x="863.77" y="767.1" text-anchor="middle">4</text>
<text x="885.93" y="767.1" text-anchor="middle">6</text>
<text x="908.09" y="767.1" text-anchor="middle">8</text>
<text x="930.25" y="767.1" text-anchor="middle">10</text>
<text x="952.4" y="767.1" text-anchor="middle">12</text>
<text x="974.56" y="767.1" text-anchor="middle">14</text>
<text x="996.72" y="767.1" text-anchor="middle">16</text>
<text x="735.6" y="559.64" text-anchor="end">50</text>
<text x="735.6" y="597.38" text-anchor="end">40</text>
<text x="735.6" y="635.13" text-anchor="end">30</text>
<text x="735.6" y="672.87" text-anchor="end">20</text>
<text x="735.6" y="710.62" text-anchor="end">10</text>
<text x="735.6" y="748.36" text-anchor="end">0</text>
</g>
<g font-family='"Liberation Sans", sans-serif' font-size="13" fill="#2a2a2a" stroke="#2a2a2a" stroke-width="0.5" text-anchor="middle">
<text x="868.05" y="783.2" textLength="63.5" lengthAdjust="spacingAndGlyphs">Ts−Ta(K)</text>
<text transform="translate(709.4 654.3) rotate(-90)" textLength="25.5" lengthAdjust="spacingAndGlyphs">SZA</text>
</g>
</g>
<g>
<g shape-rendering="crispEdges">
<rect x="105.55" y="794.2" width="18.95" height="29.69" fill="#F5CD0A"/>
<rect x="124.5" y="794.2" width="18.95" height="29.69" fill="#FF3200"/>
<rect x="143.45" y="794.2" width="18.95" height="29.69" fill="#DC1400"/>
<rect x="162.4" y="794.2" width="18.95" height="29.69" fill="#F5CD0A"/>
<rect x="181.35" y="794.2" width="37.9" height="29.69" fill="#FFFF0A"/>
<rect x="219.25" y="794.2" width="18.95" height="29.69" fill="#F8A80A"/>
<rect x="238.2" y="794.2" width="94.75" height="29.69" fill="#DC1400"/>
<rect x="105.55" y="823.89" width="18.95" height="29.69" fill="#F5CD0A"/>
<rect x="124.5" y="823.89" width="18.95" height="29.69" fill="#FF3200"/>
<rect x="143.45" y="823.89" width="18.95" height="29.69" fill="#DC1400"/>
<rect x="162.4" y="823.89" width="18.95" height="29.69" fill="#F5CD0A"/>
<rect x="181.35" y="823.89" width="37.9" height="29.69" fill="#FFFF0A"/>
<rect x="219.25" y="823.89" width="18.95" height="29.69" fill="#F8A80A"/>
<rect x="238.2" y="823.89" width="18.95" height="29.69" fill="#FF3200"/>
<rect x="257.15" y="823.89" width="56.85" height="29.69" fill="#DC1400"/>
<rect x="105.55" y="853.57" width="18.95" height="29.69" fill="#F8A80A"/>
<rect x="124.5" y="853.57" width="37.9" height="29.69" fill="#FF3200"/>
<rect x="162.4" y="853.57" width="18.95" height="29.69" fill="#F5CD0A"/>
<rect x="181.35" y="853.57" width="37.9" height="29.69" fill="#FFFF0A"/>
<rect x="219.25" y="853.57" width="18.95" height="29.69" fill="#F5CD0A"/>
<rect x="238.2" y="853.57" width="18.95" height="29.69" fill="#FF3200"/>
<rect x="257.15" y="853.57" width="56.85" height="29.69" fill="#DC1400"/>
<rect x="105.55" y="883.26" width="18.95" height="29.69" fill="#FF780A"/>
<rect x="124.5" y="883.26" width="18.95" height="29.69" fill="#FF3200"/>
<rect x="143.45" y="883.26" width="18.95" height="29.69" fill="#FF780A"/>
<rect x="162.4" y="883.26" width="37.9" height="29.69" fill="#F5CD0A"/>
<rect x="200.3" y="883.26" width="18.95" height="29.69" fill="#FFFF0A"/>
<rect x="219.25" y="883.26" width="18.95" height="29.69" fill="#F5CD0A"/>
<rect x="238.2" y="883.26" width="18.95" height="29.69" fill="#FF3200"/>
<rect x="257.15" y="883.26" width="56.85" height="29.69" fill="#DC1400"/>
<rect x="105.55" y="912.94" width="18.95" height="29.69" fill="#DC1400"/>
<rect x="124.5" y="912.94" width="37.9" height="29.69" fill="#FF780A"/>
<rect x="162.4" y="912.94" width="37.9" height="29.69" fill="#F5CD0A"/>
<rect x="200.3" y="912.94" width="18.95" height="29.69" fill="#FFFF0A"/>
<rect x="219.25" y="912.94" width="18.95" height="29.69" fill="#F5CD0A"/>
<rect x="238.2" y="912.94" width="18.95" height="29.69" fill="#FF3200"/>
<rect x="257.15" y="912.94" width="56.85" height="29.69" fill="#DC1400"/>
<rect x="105.55" y="942.63" width="18.95" height="29.69" fill="#DC1400"/>
<rect x="124.5" y="942.63" width="18.95" height="29.69" fill="#FF780A"/>
<rect x="143.45" y="942.63" width="37.9" height="29.69" fill="#F8A80A"/>
<rect x="181.35" y="942.63" width="18.95" height="29.69" fill="#F5CD0A"/>
<rect x="200.3" y="942.63" width="18.95" height="29.69" fill="#FFFF0A"/>
<rect x="219.25" y="942.63" width="18.95" height="29.69" fill="#F5CD0A"/>
<rect x="238.2" y="942.63" width="18.95" height="29.69" fill="#FF780A"/>
<rect x="257.15" y="942.63" width="56.85" height="29.69" fill="#DC1400"/>
<rect x="105.55" y="972.31" width="18.95" height="29.69" fill="#DC1400"/>
<rect x="124.5" y="972.31" width="56.85" height="29.69" fill="#F8A80A"/>
<rect x="181.35" y="972.31" width="56.85" height="29.69" fill="#F5CD0A"/>
<rect x="238.2" y="972.31" width="18.95" height="29.69" fill="#FF780A"/>
<rect x="257.15" y="972.31" width="56.85" height="29.69" fill="#DC1400"/>
</g>
<g stroke="#b9b9b9" stroke-width="0.9" stroke-dasharray="1.2 2.6" opacity="0.6" fill="none">
<path d="M96.07 794.2V1002"/>
<path d="M115.02 794.2V1002"/>
<path d="M133.97 794.2V1002"/>
<path d="M152.92 794.2V1002"/>
<path d="M171.88 794.2V1002"/>
<path d="M190.82 794.2V1002"/>
<path d="M209.77 794.2V1002"/>
<path d="M228.72 794.2V1002"/>
<path d="M247.67 794.2V1002"/>
<path d="M266.62 794.2V1002"/>
<path d="M285.57 794.2V1002"/>
<path d="M304.52 794.2V1002"/>
<path d="M323.47 794.2V1002"/>
<path d="M342.42 794.2V1002"/>
<path d="M86.6 809.04H351.9"/>
<path d="M86.6 838.73H351.9"/>
<path d="M86.6 868.41H351.9"/>
<path d="M86.6 898.1H351.9"/>
<path d="M86.6 927.79H351.9"/>
<path d="M86.6 957.47H351.9"/>
<path d="M86.6 987.16H351.9"/>
</g>
<rect x="86.6" y="794.2" width="265.3" height="207.8" fill="none" stroke="#4a4a4a" stroke-width="1.25"/>
<g stroke="#4a4a4a" stroke-width="1.15">
<path d="M96.07 1002v3.4"/>
<path d="M115.02 1002v3.4"/>
<path d="M133.97 1002v3.4"/>
<path d="M152.92 1002v3.4"/>
<path d="M171.88 1002v3.4"/>
<path d="M190.82 1002v3.4"/>
<path d="M209.77 1002v3.4"/>
<path d="M228.72 1002v3.4"/>
<path d="M247.67 1002v3.4"/>
<path d="M266.62 1002v3.4"/>
<path d="M285.57 1002v3.4"/>
<path d="M304.52 1002v3.4"/>
<path d="M323.47 1002v3.4"/>
<path d="M342.42 1002v3.4"/>
<path d="M86.6 809.04h-3.4"/>
<path d="M86.6 838.73h-3.4"/>
<path d="M86.6 868.41h-3.4"/>
<path d="M86.6 898.1h-3.4"/>
<path d="M86.6 927.79h-3.4"/>
<path d="M86.6 957.47h-3.4"/>
<path d="M86.6 987.16h-3.4"/>
</g>
<g font-family='"Liberation Sans", sans-serif' font-size="11.6" fill="#2a2a2a" stroke="#2a2a2a" stroke-width="0.3">
<text x="96.37" y="1015.5" text-anchor="middle">−4</text>
<text x="115.32" y="1015.5" text-anchor="middle">−3</text>
<text x="134.28" y="1015.5" text-anchor="middle">−2</text>
<text x="153.22" y="1015.5" text-anchor="middle">−1</text>
<text x="171.88" y="1015.5" text-anchor="middle">0</text>
<text x="190.82" y="1015.5" text-anchor="middle">1</text>
<text x="209.77" y="1015.5" text-anchor="middle">2</text>
<text x="228.72" y="1015.5" text-anchor="middle">3</text>
<text x="247.67" y="1015.5" text-anchor="middle">4</text>
<text x="266.62" y="1015.5" text-anchor="middle">5</text>
<text x="285.57" y="1015.5" text-anchor="middle">6</text>
<text x="304.52" y="1015.5" text-anchor="middle">7</text>
<text x="323.47" y="1015.5" text-anchor="middle">8</text>
<text x="342.42" y="1015.5" text-anchor="middle">9</text>
<text x="80.3" y="813.24" text-anchor="end">0.012</text>
<text x="80.3" y="842.93" text-anchor="end">0.008</text>
<text x="80.3" y="872.61" text-anchor="end">0.004</text>
<text x="80.3" y="902.3" text-anchor="end">0</text>
<text x="80.3" y="931.99" text-anchor="end">−0.004</text>
<text x="80.3" y="961.67" text-anchor="end">−0.008</text>
<text x="80.3" y="991.36" text-anchor="end">−0.012</text>
</g>
<g font-family='"Liberation Sans", sans-serif' font-size="13" fill="#2a2a2a" stroke="#2a2a2a" stroke-width="0.5" text-anchor="middle">
<text x="216.15" y="1031.6" textLength="46.5" lengthAdjust="spacingAndGlyphs">BTD(K)</text>
<text transform="translate(41.6 902.6) rotate(-90)" textLength="86" lengthAdjust="spacingAndGlyphs">Emi.1−Emi.2</text>
</g>
</g>
<g>
<g shape-rendering="crispEdges">
<rect x="435.39" y="796.9" width="18.99" height="29.61" fill="#FF780A"/>
<rect x="454.37" y="796.9" width="18.99" height="29.61" fill="#F8A80A"/>
<rect x="473.36" y="796.9" width="18.99" height="29.61" fill="#DC1400"/>
<rect x="492.34" y="796.9" width="18.99" height="29.61" fill="#F5CD0A"/>
<rect x="511.33" y="796.9" width="37.97" height="29.61" fill="#FFFF0A"/>
<rect x="549.3" y="796.9" width="18.99" height="29.61" fill="#F8A80A"/>
<rect x="568.29" y="796.9" width="18.99" height="29.61" fill="#FF3200"/>
<rect x="587.27" y="796.9" width="37.97" height="29.61" fill="#DC1400"/>
<rect x="625.24" y="796.9" width="18.99" height="29.61" fill="#FF780A"/>
<rect x="644.23" y="796.9" width="18.99" height="29.61" fill="#F5CD0A"/>
<rect x="435.39" y="826.51" width="37.97" height="29.61" fill="#F8A80A"/>
<rect x="473.36" y="826.51" width="18.99" height="29.61" fill="#DC1400"/>
<rect x="492.34" y="826.51" width="18.99" height="29.61" fill="#F5CD0A"/>
<rect x="511.33" y="826.51" width="37.97" height="29.61" fill="#FFFF0A"/>
<rect x="549.3" y="826.51" width="18.99" height="29.61" fill="#F5CD0A"/>
<rect x="568.29" y="826.51" width="18.99" height="29.61" fill="#FF780A"/>
<rect x="587.27" y="826.51" width="37.97" height="29.61" fill="#DC1400"/>
<rect x="625.24" y="826.51" width="18.99" height="29.61" fill="#FF780A"/>
<rect x="435.39" y="856.13" width="18.99" height="29.61" fill="#F5CD0A"/>
<rect x="454.37" y="856.13" width="18.99" height="29.61" fill="#F8A80A"/>
<rect x="473.36" y="856.13" width="18.99" height="29.61" fill="#FF3200"/>
<rect x="492.34" y="856.13" width="18.99" height="29.61" fill="#F5CD0A"/>
<rect x="511.33" y="856.13" width="37.97" height="29.61" fill="#FFFF0A"/>
<rect x="549.3" y="856.13" width="18.99" height="29.61" fill="#F5CD0A"/>
<rect x="568.29" y="856.13" width="18.99" height="29.61" fill="#FF780A"/>
<rect x="587.27" y="856.13" width="37.97" height="29.61" fill="#DC1400"/>
<rect x="625.24" y="856.13" width="18.99" height="29.61" fill="#F8A80A"/>
<rect x="435.39" y="885.74" width="18.99" height="29.61" fill="#F5CD0A"/>
<rect x="454.37" y="885.74" width="18.99" height="29.61" fill="#F8A80A"/>
<rect x="473.36" y="885.74" width="18.99" height="29.61" fill="#FF780A"/>
<rect x="492.34" y="885.74" width="18.99" height="29.61" fill="#F5CD0A"/>
<rect x="511.33" y="885.74" width="37.97" height="29.61" fill="#FFFF0A"/>
<rect x="549.3" y="885.74" width="18.99" height="29.61" fill="#F5CD0A"/>
<rect x="568.29" y="885.74" width="18.99" height="29.61" fill="#FF780A"/>
<rect x="587.27" y="885.74" width="18.99" height="29.61" fill="#DC1400"/>
<rect x="606.26" y="885.74" width="18.99" height="29.61" fill="#FF3200"/>
<rect x="625.24" y="885.74" width="18.99" height="29.61" fill="#F8A80A"/>
<rect x="435.39" y="915.36" width="56.96" height="29.61" fill="#F8A80A"/>
<rect x="492.34" y="915.36" width="18.99" height="29.61" fill="#F5CD0A"/>
<rect x="511.33" y="915.36" width="37.97" height="29.61" fill="#FFFF0A"/>
<rect x="549.3" y="915.36" width="18.99" height="29.61" fill="#F5CD0A"/>
<rect x="568.29" y="915.36" width="18.99" height="29.61" fill="#FF780A"/>
<rect x="587.27" y="915.36" width="37.97" height="29.61" fill="#FF3200"/>
<rect x="625.24" y="915.36" width="18.99" height="29.61" fill="#F8A80A"/>
<rect x="435.39" y="944.97" width="56.96" height="29.61" fill="#F8A80A"/>
<rect x="492.34" y="944.97" width="18.99" height="29.61" fill="#F5CD0A"/>
<rect x="511.33" y="944.97" width="37.97" height="29.61" fill="#FFFF0A"/>
<rect x="549.3" y="944.97" width="18.99" height="29.61" fill="#F5CD0A"/>
<rect x="568.29" y="944.97" width="18.99" height="29.61" fill="#FF780A"/>
<rect x="587.27" y="944.97" width="37.97" height="29.61" fill="#FF3200"/>
<rect x="625.24" y="944.97" width="18.99" height="29.61" fill="#F8A80A"/>
<rect x="435.39" y="974.59" width="18.99" height="29.61" fill="#FF780A"/>
<rect x="454.37" y="974.59" width="18.99" height="29.61" fill="#F5CD0A"/>
<rect x="473.36" y="974.59" width="18.99" height="29.61" fill="#F8A80A"/>
<rect x="492.34" y="974.59" width="18.99" height="29.61" fill="#F5CD0A"/>
<rect x="511.33" y="974.59" width="37.97" height="29.61" fill="#FFFF0A"/>
<rect x="549.3" y="974.59" width="18.99" height="29.61" fill="#F5CD0A"/>
<rect x="568.29" y="974.59" width="18.99" height="29.61" fill="#FF780A"/>
<rect x="587.27" y="974.59" width="37.97" height="29.61" fill="#FF3200"/>
<rect x="625.24" y="974.59" width="18.99" height="29.61" fill="#F8A80A"/>
</g>
<g stroke="#b9b9b9" stroke-width="0.9" stroke-dasharray="1.2 2.6" opacity="0.6" fill="none">
<path d="M425.89 796.9V1004.2"/>
<path d="M444.88 796.9V1004.2"/>
<path d="M463.86 796.9V1004.2"/>
<path d="M482.85 796.9V1004.2"/>
<path d="M501.84 796.9V1004.2"/>
<path d="M520.82 796.9V1004.2"/>
<path d="M539.81 796.9V1004.2"/>
<path d="M558.79 796.9V1004.2"/>
<path d="M577.78 796.9V1004.2"/>
<path d="M596.76 796.9V1004.2"/>
<path d="M615.75 796.9V1004.2"/>
<path d="M634.74 796.9V1004.2"/>
<path d="M653.72 796.9V1004.2"/>
<path d="M672.71 796.9V1004.2"/>
<path d="M416.4 811.71H682.2"/>
<path d="M416.4 841.32H682.2"/>
<path d="M416.4 870.94H682.2"/>
<path d="M416.4 900.55H682.2"/>
<path d="M416.4 930.16H682.2"/>
<path d="M416.4 959.78H682.2"/>
<path d="M416.4 989.39H682.2"/>
</g>
<rect x="416.4" y="796.9" width="265.8" height="207.3" fill="none" stroke="#4a4a4a" stroke-width="1.25"/>
<g stroke="#4a4a4a" stroke-width="1.15">
<path d="M425.89 1004.2v3.4"/>
<path d="M444.88 1004.2v3.4"/>
<path d="M463.86 1004.2v3.4"/>
<path d="M482.85 1004.2v3.4"/>
<path d="M501.84 1004.2v3.4"/>
<path d="M520.82 1004.2v3.4"/>
<path d="M539.81 1004.2v3.4"/>
<path d="M558.79 1004.2v3.4"/>
<path d="M577.78 1004.2v3.4"/>
<path d="M596.76 1004.2v3.4"/>
<path d="M615.75 1004.2v3.4"/>
<path d="M634.74 1004.2v3.4"/>
<path d="M653.72 1004.2v3.4"/>
<path d="M672.71 1004.2v3.4"/>
<path d="M416.4 811.71h-3.4"/>
<path d="M416.4 841.32h-3.4"/>
<path d="M416.4 870.94h-3.4"/>
<path d="M416.4 900.55h-3.4"/>
<path d="M416.4 930.16h-3.4"/>
<path d="M416.4 959.78h-3.4"/>
<path d="M416.4 989.39h-3.4"/>
</g>
<g font-family='"Liberation Sans", sans-serif' font-size="11.6" fill="#2a2a2a" stroke="#2a2a2a" stroke-width="0.3">
<text x="426.19" y="1017.7" text-anchor="middle">−4</text>
<text x="445.18" y="1017.7" text-anchor="middle">−3</text>
<text x="464.16" y="1017.7" text-anchor="middle">−2</text>
<text x="483.15" y="1017.7" text-anchor="middle">−1</text>
<text x="501.84" y="1017.7" text-anchor="middle">0</text>
<text x="520.82" y="1017.7" text-anchor="middle">1</text>
<text x="539.81" y="1017.7" text-anchor="middle">2</text>
<text x="558.79" y="1017.7" text-anchor="middle">3</text>
<text x="577.78" y="1017.7" text-anchor="middle">4</text>
<text x="596.76" y="1017.7" text-anchor="middle">5</text>
<text x="615.75" y="1017.7" text-anchor="middle">6</text>
<text x="634.74" y="1017.7" text-anchor="middle">7</text>
<text x="653.72" y="1017.7" text-anchor="middle">8</text>
<text x="672.71" y="1017.7" text-anchor="middle">9</text>
<text x="410.1" y="815.91" text-anchor="end">0.012</text>
<text x="410.1" y="845.52" text-anchor="end">0.008</text>
<text x="410.1" y="875.14" text-anchor="end">0.004</text>
<text x="410.1" y="904.75" text-anchor="end">0</text>
<text x="410.1" y="934.36" text-anchor="end">−0.004</text>
<text x="410.1" y="963.98" text-anchor="end">−0.008</text>
<text x="410.1" y="993.59" text-anchor="end">−0.012</text>
</g>
<g font-family='"Liberation Sans", sans-serif' font-size="13" fill="#2a2a2a" stroke="#2a2a2a" stroke-width="0.5" text-anchor="middle">
<text x="546.2" y="1033.8" textLength="46.5" lengthAdjust="spacingAndGlyphs">BTD(K)</text>
<text transform="translate(371.4 905.05) rotate(-90)" textLength="86" lengthAdjust="spacingAndGlyphs">Emi.1−Emi.2</text>
</g>
</g>
<g>
<g shape-rendering="crispEdges">
<rect x="764.25" y="797.9" width="19.05" height="29.59" fill="#FF780A"/>
<rect x="783.3" y="797.9" width="19.05" height="29.59" fill="#0A3CDC"/>
<rect x="802.35" y="797.9" width="19.05" height="29.59" fill="#C8FA6E"/>
<rect x="821.4" y="797.9" width="38.1" height="29.59" fill="#5AD7FA"/>
<rect x="859.5" y="797.9" width="19.05" height="29.59" fill="#C8FAFF"/>
<rect x="878.55" y="797.9" width="19.05" height="29.59" fill="#A5EBFA"/>
<rect x="897.6" y="797.9" width="19.05" height="29.59" fill="#0A66F0"/>
<rect x="916.65" y="797.9" width="76.2" height="29.59" fill="#0A3CDC"/>
<rect x="764.25" y="827.49" width="19.05" height="29.59" fill="#F8A80A"/>
<rect x="783.3" y="827.49" width="19.05" height="29.59" fill="#0A3CDC"/>
<rect x="802.35" y="827.49" width="19.05" height="29.59" fill="#C8FAFF"/>
<rect x="821.4" y="827.49" width="38.1" height="29.59" fill="#5AD7FA"/>
<rect x="859.5" y="827.49" width="38.1" height="29.59" fill="#A5EBFA"/>
<rect x="897.6" y="827.49" width="19.05" height="29.59" fill="#0A66F0"/>
<rect x="916.65" y="827.49" width="57.15" height="29.59" fill="#0A3CDC"/>
<rect x="764.25" y="857.07" width="19.05" height="29.59" fill="#4B8CFF"/>
<rect x="783.3" y="857.07" width="19.05" height="29.59" fill="#0A3CDC"/>
<rect x="802.35" y="857.07" width="38.1" height="29.59" fill="#A5EBFA"/>
<rect x="840.45" y="857.07" width="19.05" height="29.59" fill="#5AD7FA"/>
<rect x="859.5" y="857.07" width="38.1" height="29.59" fill="#A5EBFA"/>
<rect x="897.6" y="857.07" width="19.05" height="29.59" fill="#0A66F0"/>
<rect x="916.65" y="857.07" width="57.15" height="29.59" fill="#0A3CDC"/>
<rect x="764.25" y="886.66" width="38.1" height="29.59" fill="#0A3CDC"/>
<rect x="802.35" y="886.66" width="38.1" height="29.59" fill="#A5EBFA"/>
<rect x="840.45" y="886.66" width="19.05" height="29.59" fill="#23C8F0"/>
<rect x="859.5" y="886.66" width="19.05" height="29.59" fill="#5AD7FA"/>
<rect x="878.55" y="886.66" width="19.05" height="29.59" fill="#A5EBFA"/>
<rect x="897.6" y="886.66" width="19.05" height="29.59" fill="#0A66F0"/>
<rect x="916.65" y="886.66" width="57.15" height="29.59" fill="#0A3CDC"/>
<rect x="764.25" y="916.24" width="19.05" height="29.59" fill="#0A3CDC"/>
<rect x="783.3" y="916.24" width="19.05" height="29.59" fill="#0A66F0"/>
<rect x="802.35" y="916.24" width="19.05" height="29.59" fill="#A5EBFA"/>
<rect x="821.4" y="916.24" width="19.05" height="29.59" fill="#5AD7FA"/>
<rect x="840.45" y="916.24" width="19.05" height="29.59" fill="#4B8CFF"/>
<rect x="859.5" y="916.24" width="19.05" height="29.59" fill="#23C8F0"/>
<rect x="878.55" y="916.24" width="19.05" height="29.59" fill="#A5EBFA"/>
<rect x="897.6" y="916.24" width="19.05" height="29.59" fill="#4B8CFF"/>
<rect x="916.65" y="916.24" width="57.15" height="29.59" fill="#0A3CDC"/>
<rect x="764.25" y="945.83" width="19.05" height="29.59" fill="#0A3CDC"/>
<rect x="783.3" y="945.83" width="19.05" height="29.59" fill="#4B8CFF"/>
<rect x="802.35" y="945.83" width="19.05" height="29.59" fill="#A5EBFA"/>
<rect x="821.4" y="945.83" width="19.05" height="29.59" fill="#23C8F0"/>
<rect x="840.45" y="945.83" width="38.1" height="29.59" fill="#4B8CFF"/>
<rect x="878.55" y="945.83" width="19.05" height="29.59" fill="#A5EBFA"/>
<rect x="897.6" y="945.83" width="19.05" height="29.59" fill="#4B8CFF"/>
<rect x="916.65" y="945.83" width="57.15" height="29.59" fill="#0A3CDC"/>
<rect x="764.25" y="975.41" width="19.05" height="29.59" fill="#0A3CDC"/>
<rect x="783.3" y="975.41" width="19.05" height="29.59" fill="#4B8CFF"/>
<rect x="802.35" y="975.41" width="19.05" height="29.59" fill="#5AD7FA"/>
<rect x="821.4" y="975.41" width="19.05" height="29.59" fill="#4B8CFF"/>
<rect x="840.45" y="975.41" width="38.1" height="29.59" fill="#0A66F0"/>
<rect x="878.55" y="975.41" width="19.05" height="29.59" fill="#A5EBFA"/>
<rect x="897.6" y="975.41" width="19.05" height="29.59" fill="#4B8CFF"/>
<rect x="916.65" y="975.41" width="57.15" height="29.59" fill="#0A3CDC"/>
</g>
<g stroke="#e3a9a9" stroke-width="0.9" stroke-dasharray="1.2 2.6" opacity="0.42" fill="none">
<path d="M754.73 797.9V1005"/>
<path d="M773.78 797.9V1005"/>
<path d="M792.83 797.9V1005"/>
<path d="M811.88 797.9V1005"/>
<path d="M830.93 797.9V1005"/>
<path d="M849.98 797.9V1005"/>
<path d="M869.02 797.9V1005"/>
<path d="M888.08 797.9V1005"/>
<path d="M907.12 797.9V1005"/>
<path d="M926.17 797.9V1005"/>
<path d="M945.23 797.9V1005"/>
<path d="M964.27 797.9V1005"/>
<path d="M983.33 797.9V1005"/>
<path d="M1002.38 797.9V1005"/>
<path d="M745.2 812.69H1011.9"/>
<path d="M745.2 842.28H1011.9"/>
<path d="M745.2 871.86H1011.9"/>
<path d="M745.2 901.45H1011.9"/>
<path d="M745.2 931.04H1011.9"/>
<path d="M745.2 960.62H1011.9"/>
<path d="M745.2 990.21H1011.9"/>
</g>
<g fill="none" stroke-width="1.2">
<circle cx="773.78" cy="812.69" r="10.74" stroke="rgba(255,85,80,0.62)"/>
<circle cx="792.83" cy="812.69" r="5.37" stroke="rgba(15,25,45,0.55)"/>
<circle cx="811.88" cy="812.69" r="1.1" fill="rgba(255,85,80,0.62)" stroke="none"/>
<circle cx="830.92" cy="812.69" r="4.83" stroke="rgba(15,25,45,0.55)"/>
<circle cx="849.98" cy="812.69" r="5.64" stroke="rgba(15,25,45,0.55)"/>
<circle cx="869.02" cy="812.69" r="2.95" stroke="rgba(15,25,45,0.55)"/>
<circle cx="888.08" cy="812.69" r="2.69" stroke="rgba(15,25,45,0.55)"/>
<circle cx="907.12" cy="812.69" r="4.83" stroke="rgba(15,25,45,0.55)"/>
<circle cx="926.17" cy="812.69" r="5.37" stroke="rgba(15,25,45,0.55)"/>
<circle cx="945.22" cy="812.69" r="6.44" stroke="rgba(15,25,45,0.55)"/>
<circle cx="964.27" cy="812.69" r="9.67" stroke="rgba(15,25,45,0.55)"/>
<circle cx="983.32" cy="812.69" r="10.2" stroke="rgba(15,25,45,0.55)"/>
<circle cx="773.78" cy="842.28" r="4.83" stroke="rgba(255,85,80,0.62)"/>
<circle cx="792.83" cy="842.28" r="5.64" stroke="rgba(15,25,45,0.55)"/>
<circle cx="811.88" cy="842.28" r="1.34" fill="rgba(15,25,45,0.55)" stroke="none"/>
<circle cx="830.92" cy="842.28" r="4.56" stroke="rgba(15,25,45,0.55)"/>
<circle cx="849.98" cy="842.28" r="5.64" stroke="rgba(15,25,45,0.55)"/>
<circle cx="869.02" cy="842.28" r="3.49" stroke="rgba(15,25,45,0.55)"/>
<circle cx="888.08" cy="842.28" r="2.69" stroke="rgba(15,25,45,0.55)"/>
<circle cx="907.12" cy="842.28" r="4.83" stroke="rgba(15,25,45,0.55)"/>
<circle cx="926.17" cy="842.28" r="5.37" stroke="rgba(15,25,45,0.55)"/>
<circle cx="945.22" cy="842.28" r="6.44" stroke="rgba(15,25,45,0.55)"/>
<circle cx="964.27" cy="842.28" r="9.4" stroke="rgba(15,25,45,0.55)"/>
<circle cx="773.78" cy="871.86" r="5.1" stroke="rgba(15,25,45,0.55)"/>
<circle cx="792.83" cy="871.86" r="5.64" stroke="rgba(15,25,45,0.55)"/>
<circle cx="811.88" cy="871.86" r="2.42" stroke="rgba(15,25,45,0.55)"/>
<circle cx="830.92" cy="871.86" r="3.49" stroke="rgba(15,25,45,0.55)"/>
<circle cx="849.98" cy="871.86" r="5.37" stroke="rgba(15,25,45,0.55)"/>
<circle cx="869.02" cy="871.86" r="4.03" stroke="rgba(15,25,45,0.55)"/>
<circle cx="888.08" cy="871.86" r="2.69" stroke="rgba(15,25,45,0.55)"/>
<circle cx="907.12" cy="871.86" r="4.83" stroke="rgba(15,25,45,0.55)"/>
<circle cx="926.17" cy="871.86" r="5.64" stroke="rgba(15,25,45,0.55)"/>
<circle cx="945.22" cy="871.86" r="6.44" stroke="rgba(15,25,45,0.55)"/>
<circle cx="964.27" cy="871.86" r="9.4" stroke="rgba(15,25,45,0.55)"/>
<circle cx="773.78" cy="901.45" r="8.06" stroke="rgba(15,25,45,0.55)"/>
<circle cx="792.83" cy="901.45" r="5.64" stroke="rgba(15,25,45,0.55)"/>
<circle cx="811.88" cy="901.45" r="2.69" stroke="rgba(15,25,45,0.55)"/>
<circle cx="830.92" cy="901.45" r="3.76" stroke="rgba(15,25,45,0.55)"/>
<circle cx="849.98" cy="901.45" r="5.91" stroke="rgba(15,25,45,0.55)"/>
<circle cx="869.02" cy="901.45" r="4.83" stroke="rgba(15,25,45,0.55)"/>
<circle cx="888.08" cy="901.45" r="2.95" stroke="rgba(15,25,45,0.55)"/>
<circle cx="907.12" cy="901.45" r="4.83" stroke="rgba(15,25,45,0.55)"/>
<circle cx="926.17" cy="901.45" r="5.64" stroke="rgba(15,25,45,0.55)"/>
<circle cx="945.22" cy="901.45" r="6.44" stroke="rgba(15,25,45,0.55)"/>
<circle cx="964.27" cy="901.45" r="9.4" stroke="rgba(15,25,45,0.55)"/>
<circle cx="773.78" cy="931.04" r="8.86" stroke="rgba(15,25,45,0.55)"/>
<circle cx="792.83" cy="931.04" r="5.1" stroke="rgba(15,25,45,0.55)"/>
<circle cx="811.88" cy="931.04" r="2.69" stroke="rgba(15,25,45,0.55)"/>
<circle cx="830.92" cy="931.04" r="4.56" stroke="rgba(15,25,45,0.55)"/>
<circle cx="849.98" cy="931.04" r="5.91" stroke="rgba(15,25,45,0.55)"/>
<circle cx="869.02" cy="931.04" r="5.91" stroke="rgba(15,25,45,0.55)"/>
<circle cx="888.08" cy="931.04" r="2.95" stroke="rgba(15,25,45,0.55)"/>
<circle cx="907.12" cy="931.04" r="5.1" stroke="rgba(15,25,45,0.55)"/>
<circle cx="926.17" cy="931.04" r="5.91" stroke="rgba(15,25,45,0.55)"/>
<circle cx="945.22" cy="931.04" r="6.71" stroke="rgba(15,25,45,0.55)"/>
<circle cx="964.27" cy="931.04" r="9.4" stroke="rgba(15,25,45,0.55)"/>
<circle cx="773.78" cy="960.62" r="8.86" stroke="rgba(15,25,45,0.55)"/>
<circle cx="792.83" cy="960.62" r="5.1" stroke="rgba(15,25,45,0.55)"/>
<circle cx="811.88" cy="960.62" r="2.95" stroke="rgba(15,25,45,0.55)"/>
<circle cx="830.92" cy="960.62" r="4.83" stroke="rgba(15,25,45,0.55)"/>
<circle cx="849.98" cy="960.62" r="6.98" stroke="rgba(15,25,45,0.55)"/>
<circle cx="869.02" cy="960.62" r="6.71" stroke="rgba(15,25,45,0.55)"/>
<circle cx="888.08" cy="960.62" r="3.22" stroke="rgba(15,25,45,0.55)"/>
<circle cx="907.12" cy="960.62" r="4.83" stroke="rgba(15,25,45,0.55)"/>
<circle cx="926.17" cy="960.62" r="5.91" stroke="rgba(15,25,45,0.55)"/>
<circle cx="945.22" cy="960.62" r="6.71" stroke="rgba(15,25,45,0.55)"/>
<circle cx="964.27" cy="960.62" r="9.4" stroke="rgba(15,25,45,0.55)"/>
<circle cx="773.78" cy="990.21" r="8.86" stroke="rgba(15,25,45,0.55)"/>
<circle cx="792.83" cy="990.21" r="5.1" stroke="rgba(15,25,45,0.55)"/>
<circle cx="811.88" cy="990.21" r="3.22" stroke="rgba(15,25,45,0.55)"/>
<circle cx="830.92" cy="990.21" r="5.64" stroke="rgba(15,25,45,0.55)"/>
<circle cx="849.98" cy="990.21" r="6.98" stroke="rgba(15,25,45,0.55)"/>
<circle cx="869.02" cy="990.21" r="6.71" stroke="rgba(15,25,45,0.55)"/>
<circle cx="888.08" cy="990.21" r="3.76" stroke="rgba(15,25,45,0.55)"/>
<circle cx="907.12" cy="990.21" r="5.1" stroke="rgba(15,25,45,0.55)"/>
<circle cx="926.17" cy="990.21" r="5.91" stroke="rgba(15,25,45,0.55)"/>
<circle cx="945.22" cy="990.21" r="6.71" stroke="rgba(15,25,45,0.55)"/>
<circle cx="964.27" cy="990.21" r="9.4" stroke="rgba(15,25,45,0.55)"/>
</g>
<rect x="745.2" y="797.9" width="266.7" height="207.1" fill="none" stroke="#4a4a4a" stroke-width="1.25"/>
<g stroke="#4a4a4a" stroke-width="1.15">
<path d="M754.73 1005v3.4"/>
<path d="M773.78 1005v3.4"/>
<path d="M792.83 1005v3.4"/>
<path d="M811.88 1005v3.4"/>
<path d="M830.93 1005v3.4"/>
<path d="M849.98 1005v3.4"/>
<path d="M869.02 1005v3.4"/>
<path d="M888.08 1005v3.4"/>
<path d="M907.12 1005v3.4"/>
<path d="M926.17 1005v3.4"/>
<path d="M945.23 1005v3.4"/>
<path d="M964.27 1005v3.4"/>
<path d="M983.33 1005v3.4"/>
<path d="M1002.38 1005v3.4"/>
<path d="M745.2 812.69h-3.4"/>
<path d="M745.2 842.28h-3.4"/>
<path d="M745.2 871.86h-3.4"/>
<path d="M745.2 901.45h-3.4"/>
<path d="M745.2 931.04h-3.4"/>
<path d="M745.2 960.62h-3.4"/>
<path d="M745.2 990.21h-3.4"/>
</g>
<g font-family='"Liberation Sans", sans-serif' font-size="11.6" fill="#2a2a2a" stroke="#2a2a2a" stroke-width="0.3">
<text x="755.02" y="1018.5" text-anchor="middle">−4</text>
<text x="774.08" y="1018.5" text-anchor="middle">−3</text>
<text x="793.12" y="1018.5" text-anchor="middle">−2</text>
<text x="812.17" y="1018.5" text-anchor="middle">−1</text>
<text x="830.93" y="1018.5" text-anchor="middle">0</text>
<text x="849.98" y="1018.5" text-anchor="middle">1</text>
<text x="869.02" y="1018.5" text-anchor="middle">2</text>
<text x="888.08" y="1018.5" text-anchor="middle">3</text>
<text x="907.12" y="1018.5" text-anchor="middle">4</text>
<text x="926.17" y="1018.5" text-anchor="middle">5</text>
<text x="945.23" y="1018.5" text-anchor="middle">6</text>
<text x="964.27" y="1018.5" text-anchor="middle">7</text>
<text x="983.33" y="1018.5" text-anchor="middle">8</text>
<text x="1002.38" y="1018.5" text-anchor="middle">9</text>
<text x="738.9" y="816.89" text-anchor="end">0.012</text>
<text x="738.9" y="846.48" text-anchor="end">0.008</text>
<text x="738.9" y="876.06" text-anchor="end">0.004</text>
<text x="738.9" y="905.65" text-anchor="end">0</text>
<text x="738.9" y="935.24" text-anchor="end">−0.004</text>
<text x="738.9" y="964.82" text-anchor="end">−0.008</text>
<text x="738.9" y="994.41" text-anchor="end">−0.012</text>
</g>
<g font-family='"Liberation Sans", sans-serif' font-size="13" fill="#2a2a2a" stroke="#2a2a2a" stroke-width="0.5" text-anchor="middle">
<text x="875.45" y="1034.6" textLength="46.5" lengthAdjust="spacingAndGlyphs">BTD(K)</text>
<text transform="translate(700.2 905.95) rotate(-90)" textLength="86" lengthAdjust="spacingAndGlyphs">Emi.1−Emi.2</text>
</g>
</g>
<g>
<g shape-rendering="crispEdges">
<rect x="125.73" y="1045.3" width="56.74" height="18.94" fill="#FFFF0A"/>
<rect x="182.47" y="1045.3" width="18.91" height="18.94" fill="#F4F520"/>
<rect x="201.39" y="1045.3" width="18.91" height="18.94" fill="#F8A80A"/>
<rect x="220.3" y="1045.3" width="75.66" height="18.94" fill="#DC1400"/>
<rect x="106.81" y="1064.24" width="18.91" height="18.94" fill="#DC1400"/>
<rect x="125.73" y="1064.24" width="37.83" height="18.94" fill="#F5CD0A"/>
<rect x="163.56" y="1064.24" width="18.91" height="18.94" fill="#F8A80A"/>
<rect x="182.47" y="1064.24" width="18.91" height="18.94" fill="#F5CD0A"/>
<rect x="201.39" y="1064.24" width="18.91" height="18.94" fill="#FFFF0A"/>
<rect x="220.3" y="1064.24" width="18.91" height="18.94" fill="#F8A80A"/>
<rect x="239.21" y="1064.24" width="56.74" height="18.94" fill="#DC1400"/>
<rect x="106.81" y="1083.17" width="56.74" height="18.94" fill="#DC1400"/>
<rect x="163.56" y="1083.17" width="18.91" height="18.94" fill="#F8A80A"/>
<rect x="182.47" y="1083.17" width="18.91" height="18.94" fill="#F5CD0A"/>
<rect x="201.39" y="1083.17" width="18.91" height="18.94" fill="#FFFF0A"/>
<rect x="220.3" y="1083.17" width="18.91" height="18.94" fill="#F5CD0A"/>
<rect x="239.21" y="1083.17" width="18.91" height="18.94" fill="#FF3200"/>
<rect x="258.13" y="1083.17" width="56.74" height="18.94" fill="#DC1400"/>
<rect x="106.81" y="1102.11" width="18.91" height="18.94" fill="#F4F520"/>
<rect x="125.73" y="1102.11" width="75.66" height="18.94" fill="#F5CD0A"/>
<rect x="201.39" y="1102.11" width="18.91" height="18.94" fill="#FFFF0A"/>
<rect x="220.3" y="1102.11" width="18.91" height="18.94" fill="#F5CD0A"/>
<rect x="239.21" y="1102.11" width="18.91" height="18.94" fill="#FF780A"/>
<rect x="258.13" y="1102.11" width="18.91" height="18.94" fill="#FF3200"/>
<rect x="277.04" y="1102.11" width="37.83" height="18.94" fill="#DC1400"/>
<rect x="125.73" y="1121.05" width="18.91" height="18.94" fill="#F4F520"/>
<rect x="144.64" y="1121.05" width="75.66" height="18.94" fill="#FFFF0A"/>
<rect x="220.3" y="1121.05" width="18.91" height="18.94" fill="#F5CD0A"/>
<rect x="239.21" y="1121.05" width="18.91" height="18.94" fill="#FF3200"/>
<rect x="258.13" y="1121.05" width="56.74" height="18.94" fill="#DC1400"/>
<rect x="125.73" y="1139.98" width="18.91" height="18.94" fill="#FFFF0A"/>
<rect x="144.64" y="1139.98" width="37.83" height="18.94" fill="#F5CD0A"/>
<rect x="182.47" y="1139.98" width="37.83" height="18.94" fill="#FFFF0A"/>
<rect x="220.3" y="1139.98" width="18.91" height="18.94" fill="#F5CD0A"/>
<rect x="239.21" y="1139.98" width="18.91" height="18.94" fill="#F8A80A"/>
<rect x="258.13" y="1139.98" width="18.91" height="18.94" fill="#FF780A"/>
<rect x="277.04" y="1139.98" width="56.74" height="18.94" fill="#DC1400"/>
<rect x="125.73" y="1158.92" width="18.91" height="18.94" fill="#F8A80A"/>
<rect x="144.64" y="1158.92" width="18.91" height="18.94" fill="#FF780A"/>
<rect x="163.56" y="1158.92" width="18.91" height="18.94" fill="#F8A80A"/>
<rect x="182.47" y="1158.92" width="56.74" height="18.94" fill="#F5CD0A"/>
<rect x="239.21" y="1158.92" width="37.83" height="18.94" fill="#F8A80A"/>
<rect x="277.04" y="1158.92" width="18.91" height="18.94" fill="#F5CD0A"/>
<rect x="163.56" y="1177.85" width="18.91" height="18.94" fill="#96FA50"/>
<rect x="182.47" y="1177.85" width="18.91" height="18.94" fill="#F4F520"/>
<rect x="201.39" y="1177.85" width="18.91" height="18.94" fill="#F5CD0A"/>
<rect x="220.3" y="1177.85" width="18.91" height="18.94" fill="#FFFF0A"/>
<rect x="239.21" y="1177.85" width="18.91" height="18.94" fill="#F5CD0A"/>
<rect x="258.13" y="1177.85" width="18.91" height="18.94" fill="#FF780A"/>
<rect x="277.04" y="1177.85" width="18.91" height="18.94" fill="#FF3200"/>
<rect x="201.39" y="1196.79" width="18.91" height="18.94" fill="#FF780A"/>
<rect x="220.3" y="1196.79" width="18.91" height="18.94" fill="#F8A80A"/>
<rect x="239.21" y="1196.79" width="18.91" height="18.94" fill="#F5CD0A"/>
<rect x="258.13" y="1196.79" width="18.91" height="18.94" fill="#F8A80A"/>
<rect x="277.04" y="1196.79" width="18.91" height="18.94" fill="#FF780A"/>
<rect x="295.96" y="1196.79" width="18.91" height="18.94" fill="#DC1400"/>
</g>
<g stroke="#b9b9b9" stroke-width="0.9" stroke-dasharray="1.2 2.6" opacity="0.6" fill="none">
<path d="M97.36 1045.3V1253.6"/>
<path d="M116.27 1045.3V1253.6"/>
<path d="M135.19 1045.3V1253.6"/>
<path d="M154.1 1045.3V1253.6"/>
<path d="M173.01 1045.3V1253.6"/>
<path d="M191.93 1045.3V1253.6"/>
<path d="M210.84 1045.3V1253.6"/>
<path d="M229.76 1045.3V1253.6"/>
<path d="M248.67 1045.3V1253.6"/>
<path d="M267.59 1045.3V1253.6"/>
<path d="M286.5 1045.3V1253.6"/>
<path d="M305.41 1045.3V1253.6"/>
<path d="M324.33 1045.3V1253.6"/>
<path d="M343.24 1045.3V1253.6"/>
<path d="M87.9 1054.77H352.7"/>
<path d="M87.9 1092.64H352.7"/>
<path d="M87.9 1130.51H352.7"/>
<path d="M87.9 1168.39H352.7"/>
<path d="M87.9 1206.26H352.7"/>
<path d="M87.9 1244.13H352.7"/>
</g>
<rect x="87.9" y="1045.3" width="264.8" height="208.3" fill="none" stroke="#4a4a4a" stroke-width="1.25"/>
<g stroke="#4a4a4a" stroke-width="1.15">
<path d="M97.36 1253.6v3.4"/>
<path d="M116.27 1253.6v3.4"/>
<path d="M135.19 1253.6v3.4"/>
<path d="M154.1 1253.6v3.4"/>
<path d="M173.01 1253.6v3.4"/>
<path d="M191.93 1253.6v3.4"/>
<path d="M210.84 1253.6v3.4"/>
<path d="M229.76 1253.6v3.4"/>
<path d="M248.67 1253.6v3.4"/>
<path d="M267.59 1253.6v3.4"/>
<path d="M286.5 1253.6v3.4"/>
<path d="M305.41 1253.6v3.4"/>
<path d="M324.33 1253.6v3.4"/>
<path d="M343.24 1253.6v3.4"/>
<path d="M87.9 1054.77h-3.4"/>
<path d="M87.9 1092.64h-3.4"/>
<path d="M87.9 1130.51h-3.4"/>
<path d="M87.9 1168.39h-3.4"/>
<path d="M87.9 1206.26h-3.4"/>
<path d="M87.9 1244.13h-3.4"/>
</g>
<g font-family='"Liberation Sans", sans-serif' font-size="11.6" fill="#2a2a2a" stroke="#2a2a2a" stroke-width="0.3">
<text x="97.66" y="1267.1" text-anchor="middle">−4</text>
<text x="116.57" y="1267.1" text-anchor="middle">−3</text>
<text x="135.49" y="1267.1" text-anchor="middle">−2</text>
<text x="154.4" y="1267.1" text-anchor="middle">−1</text>
<text x="173.01" y="1267.1" text-anchor="middle">0</text>
<text x="191.93" y="1267.1" text-anchor="middle">1</text>
<text x="210.84" y="1267.1" text-anchor="middle">2</text>
<text x="229.76" y="1267.1" text-anchor="middle">3</text>
<text x="248.67" y="1267.1" text-anchor="middle">4</text>
<text x="267.59" y="1267.1" text-anchor="middle">5</text>
<text x="286.5" y="1267.1" text-anchor="middle">6</text>
<text x="305.41" y="1267.1" text-anchor="middle">7</text>
<text x="324.33" y="1267.1" text-anchor="middle">8</text>
<text x="343.24" y="1267.1" text-anchor="middle">9</text>
<text x="81.6" y="1058.97" text-anchor="end">50</text>
<text x="81.6" y="1096.84" text-anchor="end">40</text>
<text x="81.6" y="1134.71" text-anchor="end">30</text>
<text x="81.6" y="1172.59" text-anchor="end">20</text>
<text x="81.6" y="1210.46" text-anchor="end">10</text>
<text x="81.6" y="1248.33" text-anchor="end">0</text>
</g>
<g font-family='"Liberation Sans", sans-serif' font-size="13" fill="#2a2a2a" stroke="#2a2a2a" stroke-width="0.5" text-anchor="middle">
<text x="212.6" y="1283.2" textLength="46.5" lengthAdjust="spacingAndGlyphs">BTD(K)</text>
<text transform="translate(55.4 1153.95) rotate(-90)" textLength="25.5" lengthAdjust="spacingAndGlyphs">SZA</text>
</g>
</g>
<g>
<g shape-rendering="crispEdges">
<rect x="456.2" y="1045.3" width="56.85" height="18.94" fill="#F4F520"/>
<rect x="513.05" y="1045.3" width="18.95" height="18.94" fill="#96FA50"/>
<rect x="532" y="1045.3" width="18.95" height="18.94" fill="#FFFF0A"/>
<rect x="550.95" y="1045.3" width="18.95" height="18.94" fill="#FF3200"/>
<rect x="569.9" y="1045.3" width="56.85" height="18.94" fill="#DC1400"/>
<rect x="437.25" y="1064.24" width="18.95" height="18.94" fill="#F4F520"/>
<rect x="456.2" y="1064.24" width="18.95" height="18.94" fill="#FFFF0A"/>
<rect x="475.15" y="1064.24" width="37.9" height="18.94" fill="#F5CD0A"/>
<rect x="513.05" y="1064.24" width="37.9" height="18.94" fill="#FFFF0A"/>
<rect x="550.95" y="1064.24" width="18.95" height="18.94" fill="#F8A80A"/>
<rect x="569.9" y="1064.24" width="18.95" height="18.94" fill="#FF3200"/>
<rect x="588.85" y="1064.24" width="37.9" height="18.94" fill="#DC1400"/>
<rect x="437.25" y="1083.17" width="18.95" height="18.94" fill="#FF780A"/>
<rect x="456.2" y="1083.17" width="18.95" height="18.94" fill="#FF3200"/>
<rect x="475.15" y="1083.17" width="18.95" height="18.94" fill="#DC1400"/>
<rect x="494.1" y="1083.17" width="18.95" height="18.94" fill="#F8A80A"/>
<rect x="513.05" y="1083.17" width="18.95" height="18.94" fill="#FFFF0A"/>
<rect x="532" y="1083.17" width="18.95" height="18.94" fill="#F4F520"/>
<rect x="550.95" y="1083.17" width="18.95" height="18.94" fill="#F5CD0A"/>
<rect x="569.9" y="1083.17" width="18.95" height="18.94" fill="#FF780A"/>
<rect x="588.85" y="1083.17" width="56.85" height="18.94" fill="#DC1400"/>
<rect x="437.25" y="1102.11" width="18.95" height="18.94" fill="#FF780A"/>
<rect x="456.2" y="1102.11" width="37.9" height="18.94" fill="#F5CD0A"/>
<rect x="494.1" y="1102.11" width="56.85" height="18.94" fill="#FFFF0A"/>
<rect x="550.95" y="1102.11" width="18.95" height="18.94" fill="#F5CD0A"/>
<rect x="569.9" y="1102.11" width="18.95" height="18.94" fill="#F8A80A"/>
<rect x="588.85" y="1102.11" width="37.9" height="18.94" fill="#FF780A"/>
<rect x="626.75" y="1102.11" width="18.95" height="18.94" fill="#FF3200"/>
<rect x="456.2" y="1121.05" width="18.95" height="18.94" fill="#96FA50"/>
<rect x="475.15" y="1121.05" width="56.85" height="18.94" fill="#F4F520"/>
<rect x="532" y="1121.05" width="18.95" height="18.94" fill="#FFFF0A"/>
<rect x="550.95" y="1121.05" width="18.95" height="18.94" fill="#F5CD0A"/>
<rect x="569.9" y="1121.05" width="18.95" height="18.94" fill="#FF780A"/>
<rect x="588.85" y="1121.05" width="37.9" height="18.94" fill="#DC1400"/>
<rect x="626.75" y="1121.05" width="18.95" height="18.94" fill="#F5CD0A"/>
<rect x="456.2" y="1139.98" width="37.9" height="18.94" fill="#F4F520"/>
<rect x="494.1" y="1139.98" width="18.95" height="18.94" fill="#FFFF0A"/>
<rect x="513.05" y="1139.98" width="18.95" height="18.94" fill="#F4F520"/>
<rect x="532" y="1139.98" width="18.95" height="18.94" fill="#FFFF0A"/>
<rect x="550.95" y="1139.98" width="18.95" height="18.94" fill="#F5CD0A"/>
<rect x="569.9" y="1139.98" width="18.95" height="18.94" fill="#FF780A"/>
<rect x="588.85" y="1139.98" width="37.9" height="18.94" fill="#F8A80A"/>
<rect x="626.75" y="1139.98" width="18.95" height="18.94" fill="#FFFF0A"/>
<rect x="645.7" y="1139.98" width="18.95" height="18.94" fill="#F5CD0A"/>
<rect x="456.2" y="1158.92" width="18.95" height="18.94" fill="#FFFF0A"/>
<rect x="475.15" y="1158.92" width="18.95" height="18.94" fill="#F5CD0A"/>
<rect x="494.1" y="1158.92" width="56.85" height="18.94" fill="#FFFF0A"/>
<rect x="550.95" y="1158.92" width="75.8" height="18.94" fill="#F5CD0A"/>
<rect x="494.1" y="1177.85" width="18.95" height="18.94" fill="#F4F520"/>
<rect x="513.05" y="1177.85" width="18.95" height="18.94" fill="#96FA50"/>
<rect x="532" y="1177.85" width="18.95" height="18.94" fill="#F5CD0A"/>
<rect x="550.95" y="1177.85" width="37.9" height="18.94" fill="#FFFF0A"/>
<rect x="588.85" y="1177.85" width="18.95" height="18.94" fill="#F8A80A"/>
<rect x="607.8" y="1177.85" width="18.95" height="18.94" fill="#DC1400"/>
<rect x="532" y="1196.79" width="18.95" height="18.94" fill="#F5CD0A"/>
<rect x="550.95" y="1196.79" width="18.95" height="18.94" fill="#FFFF0A"/>
<rect x="569.9" y="1196.79" width="37.9" height="18.94" fill="#F8A80A"/>
<rect x="607.8" y="1196.79" width="18.95" height="18.94" fill="#F5CD0A"/>
<rect x="626.75" y="1196.79" width="18.95" height="18.94" fill="#F4F520"/>
</g>
<g stroke="#b9b9b9" stroke-width="0.9" stroke-dasharray="1.2 2.6" opacity="0.6" fill="none">
<path d="M427.78 1045.3V1253.6"/>
<path d="M446.73 1045.3V1253.6"/>
<path d="M465.68 1045.3V1253.6"/>
<path d="M484.62 1045.3V1253.6"/>
<path d="M503.58 1045.3V1253.6"/>
<path d="M522.52 1045.3V1253.6"/>
<path d="M541.48 1045.3V1253.6"/>
<path d="M560.42 1045.3V1253.6"/>
<path d="M579.38 1045.3V1253.6"/>
<path d="M598.33 1045.3V1253.6"/>
<path d="M617.28 1045.3V1253.6"/>
<path d="M636.23 1045.3V1253.6"/>
<path d="M655.18 1045.3V1253.6"/>
<path d="M674.12 1045.3V1253.6"/>
<path d="M418.3 1054.77H683.6"/>
<path d="M418.3 1092.64H683.6"/>
<path d="M418.3 1130.51H683.6"/>
<path d="M418.3 1168.39H683.6"/>
<path d="M418.3 1206.26H683.6"/>
<path d="M418.3 1244.13H683.6"/>
</g>
<rect x="418.3" y="1045.3" width="265.3" height="208.3" fill="none" stroke="#4a4a4a" stroke-width="1.25"/>
<g stroke="#4a4a4a" stroke-width="1.15">
<path d="M427.78 1253.6v3.4"/>
<path d="M446.73 1253.6v3.4"/>
<path d="M465.68 1253.6v3.4"/>
<path d="M484.62 1253.6v3.4"/>
<path d="M503.58 1253.6v3.4"/>
<path d="M522.52 1253.6v3.4"/>
<path d="M541.48 1253.6v3.4"/>
<path d="M560.42 1253.6v3.4"/>
<path d="M579.38 1253.6v3.4"/>
<path d="M598.33 1253.6v3.4"/>
<path d="M617.28 1253.6v3.4"/>
<path d="M636.23 1253.6v3.4"/>
<path d="M655.18 1253.6v3.4"/>
<path d="M674.12 1253.6v3.4"/>
<path d="M418.3 1054.77h-3.4"/>
<path d="M418.3 1092.64h-3.4"/>
<path d="M418.3 1130.51h-3.4"/>
<path d="M418.3 1168.39h-3.4"/>
<path d="M418.3 1206.26h-3.4"/>
<path d="M418.3 1244.13h-3.4"/>
</g>
<g font-family='"Liberation Sans", sans-serif' font-size="11.6" fill="#2a2a2a" stroke="#2a2a2a" stroke-width="0.3">
<text x="428.08" y="1267.1" text-anchor="middle">−4</text>
<text x="447.03" y="1267.1" text-anchor="middle">−3</text>
<text x="465.98" y="1267.1" text-anchor="middle">−2</text>
<text x="484.93" y="1267.1" text-anchor="middle">−1</text>
<text x="503.58" y="1267.1" text-anchor="middle">0</text>
<text x="522.52" y="1267.1" text-anchor="middle">1</text>
<text x="541.48" y="1267.1" text-anchor="middle">2</text>
<text x="560.42" y="1267.1" text-anchor="middle">3</text>
<text x="579.38" y="1267.1" text-anchor="middle">4</text>
<text x="598.33" y="1267.1" text-anchor="middle">5</text>
<text x="617.28" y="1267.1" text-anchor="middle">6</text>
<text x="636.23" y="1267.1" text-anchor="middle">7</text>
<text x="655.18" y="1267.1" text-anchor="middle">8</text>
<text x="674.12" y="1267.1" text-anchor="middle">9</text>
<text x="412" y="1058.97" text-anchor="end">50</text>
<text x="412" y="1096.84" text-anchor="end">40</text>
<text x="412" y="1134.71" text-anchor="end">30</text>
<text x="412" y="1172.59" text-anchor="end">20</text>
<text x="412" y="1210.46" text-anchor="end">10</text>
<text x="412" y="1248.33" text-anchor="end">0</text>
</g>
<g font-family='"Liberation Sans", sans-serif' font-size="13" fill="#2a2a2a" stroke="#2a2a2a" stroke-width="0.5" text-anchor="middle">
<text x="543.25" y="1283.2" textLength="46.5" lengthAdjust="spacingAndGlyphs">BTD(K)</text>
<text transform="translate(385.8 1153.95) rotate(-90)" textLength="25.5" lengthAdjust="spacingAndGlyphs">SZA</text>
</g>
</g>
<g>
<g shape-rendering="crispEdges">
<rect x="785.73" y="1045.3" width="37.83" height="18.94" fill="#0A66F0"/>
<rect x="823.56" y="1045.3" width="132.4" height="18.94" fill="#0A3CDC"/>
<rect x="766.81" y="1064.24" width="37.83" height="18.94" fill="#0A3CDC"/>
<rect x="804.64" y="1064.24" width="37.83" height="18.94" fill="#5AD7FA"/>
<rect x="842.47" y="1064.24" width="18.91" height="18.94" fill="#23C8F0"/>
<rect x="861.39" y="1064.24" width="37.83" height="18.94" fill="#C8FAFF"/>
<rect x="899.21" y="1064.24" width="56.74" height="18.94" fill="#0A3CDC"/>
<rect x="766.81" y="1083.17" width="37.83" height="18.94" fill="#0A3CDC"/>
<rect x="804.64" y="1083.17" width="18.91" height="18.94" fill="#C8FA6E"/>
<rect x="823.56" y="1083.17" width="18.91" height="18.94" fill="#C8FAFF"/>
<rect x="842.47" y="1083.17" width="18.91" height="18.94" fill="#4B8CFF"/>
<rect x="861.39" y="1083.17" width="37.83" height="18.94" fill="#5AD7FA"/>
<rect x="899.21" y="1083.17" width="75.66" height="18.94" fill="#0A3CDC"/>
<rect x="766.81" y="1102.11" width="18.91" height="18.94" fill="#FF780A"/>
<rect x="785.73" y="1102.11" width="18.91" height="18.94" fill="#C8FA6E"/>
<rect x="804.64" y="1102.11" width="56.74" height="18.94" fill="#23C8F0"/>
<rect x="861.39" y="1102.11" width="18.91" height="18.94" fill="#5AD7FA"/>
<rect x="880.3" y="1102.11" width="18.91" height="18.94" fill="#A5EBFA"/>
<rect x="899.21" y="1102.11" width="18.91" height="18.94" fill="#5AD7FA"/>
<rect x="918.13" y="1102.11" width="18.91" height="18.94" fill="#4B8CFF"/>
<rect x="937.04" y="1102.11" width="37.83" height="18.94" fill="#0A3CDC"/>
<rect x="785.73" y="1121.05" width="18.91" height="18.94" fill="#4B8CFF"/>
<rect x="804.64" y="1121.05" width="18.91" height="18.94" fill="#23C8F0"/>
<rect x="823.56" y="1121.05" width="37.83" height="18.94" fill="#4B8CFF"/>
<rect x="861.39" y="1121.05" width="18.91" height="18.94" fill="#A5EBFA"/>
<rect x="880.3" y="1121.05" width="18.91" height="18.94" fill="#C8FAFF"/>
<rect x="899.21" y="1121.05" width="18.91" height="18.94" fill="#5AD7FA"/>
<rect x="918.13" y="1121.05" width="56.74" height="18.94" fill="#0A3CDC"/>
<rect x="785.73" y="1139.98" width="56.74" height="18.94" fill="#0A3CDC"/>
<rect x="842.47" y="1139.98" width="18.91" height="18.94" fill="#4B8CFF"/>
<rect x="861.39" y="1139.98" width="18.91" height="18.94" fill="#A5EBFA"/>
<rect x="880.3" y="1139.98" width="18.91" height="18.94" fill="#96FA50"/>
<rect x="899.21" y="1139.98" width="18.91" height="18.94" fill="#C8FA6E"/>
<rect x="918.13" y="1139.98" width="75.66" height="18.94" fill="#0A3CDC"/>
<rect x="785.73" y="1158.92" width="75.66" height="18.94" fill="#0A3CDC"/>
<rect x="861.39" y="1158.92" width="18.91" height="18.94" fill="#23C8F0"/>
<rect x="880.3" y="1158.92" width="18.91" height="18.94" fill="#C8FAFF"/>
<rect x="899.21" y="1158.92" width="18.91" height="18.94" fill="#0A66F0"/>
<rect x="918.13" y="1158.92" width="18.91" height="18.94" fill="#0A3CDC"/>
<rect x="937.04" y="1158.92" width="18.91" height="18.94" fill="#23C8F0"/>
<rect x="823.56" y="1177.85" width="18.91" height="18.94" fill="#FF780A"/>
<rect x="842.47" y="1177.85" width="18.91" height="18.94" fill="#23C8F0"/>
<rect x="861.39" y="1177.85" width="18.91" height="18.94" fill="#0A66F0"/>
<rect x="880.3" y="1177.85" width="18.91" height="18.94" fill="#C8FA6E"/>
<rect x="899.21" y="1177.85" width="18.91" height="18.94" fill="#0A66F0"/>
<rect x="918.13" y="1177.85" width="18.91" height="18.94" fill="#0A3CDC"/>
<rect x="937.04" y="1177.85" width="18.91" height="18.94" fill="#FF780A"/>
<rect x="861.39" y="1196.79" width="37.83" height="18.94" fill="#0A3CDC"/>
<rect x="899.21" y="1196.79" width="18.91" height="18.94" fill="#F8A80A"/>
<rect x="918.13" y="1196.79" width="18.91" height="18.94" fill="#F4F520"/>
<rect x="937.04" y="1196.79" width="37.83" height="18.94" fill="#0A3CDC"/>
</g>
<g stroke="#e3a9a9" stroke-width="0.9" stroke-dasharray="1.2 2.6" opacity="0.42" fill="none">
<path d="M757.36 1045.3V1253.6"/>
<path d="M776.27 1045.3V1253.6"/>
<path d="M795.19 1045.3V1253.6"/>
<path d="M814.1 1045.3V1253.6"/>
<path d="M833.01 1045.3V1253.6"/>
<path d="M851.93 1045.3V1253.6"/>
<path d="M870.84 1045.3V1253.6"/>
<path d="M889.76 1045.3V1253.6"/>
<path d="M908.67 1045.3V1253.6"/>
<path d="M927.59 1045.3V1253.6"/>
<path d="M946.5 1045.3V1253.6"/>
<path d="M965.41 1045.3V1253.6"/>
<path d="M984.33 1045.3V1253.6"/>
<path d="M1003.24 1045.3V1253.6"/>
<path d="M747.9 1054.77H1012.7"/>
<path d="M747.9 1092.64H1012.7"/>
<path d="M747.9 1130.51H1012.7"/>
<path d="M747.9 1168.39H1012.7"/>
<path d="M747.9 1206.26H1012.7"/>
<path d="M747.9 1244.13H1012.7"/>
</g>
<g fill="none" stroke-width="1.2">
<circle cx="795.19" cy="1054.77" r="6.71" stroke="rgba(15,25,45,0.55)"/>
<circle cx="814.1" cy="1054.77" r="8.06" stroke="rgba(15,25,45,0.55)"/>
<circle cx="833.01" cy="1054.77" r="9.67" stroke="rgba(15,25,45,0.55)"/>
<circle cx="851.93" cy="1054.77" r="9.67" stroke="rgba(15,25,45,0.55)"/>
<circle cx="870.84" cy="1054.77" r="8.06" stroke="rgba(15,25,45,0.55)"/>
<circle cx="889.76" cy="1054.77" r="4.56" stroke="rgba(15,25,45,0.55)"/>
<circle cx="908.67" cy="1054.77" r="5.91" stroke="rgba(15,25,45,0.55)"/>
<circle cx="927.59" cy="1054.77" r="5.91" stroke="rgba(15,25,45,0.55)"/>
<circle cx="946.5" cy="1054.77" r="5.37" stroke="rgba(15,25,45,0.55)"/>
<circle cx="776.27" cy="1073.7" r="10.74" stroke="rgba(15,25,45,0.55)"/>
<circle cx="795.19" cy="1073.7" r="7.79" stroke="rgba(15,25,45,0.55)"/>
<circle cx="814.1" cy="1073.7" r="4.3" stroke="rgba(15,25,45,0.55)"/>
<circle cx="833.01" cy="1073.7" r="4.03" stroke="rgba(15,25,45,0.55)"/>
<circle cx="851.93" cy="1073.7" r="5.37" stroke="rgba(15,25,45,0.55)"/>
<circle cx="870.84" cy="1073.7" r="4.3" stroke="rgba(15,25,45,0.55)"/>
<circle cx="889.76" cy="1073.7" r="2.69" stroke="rgba(15,25,45,0.55)"/>
<circle cx="908.67" cy="1073.7" r="4.56" stroke="rgba(15,25,45,0.55)"/>
<circle cx="927.59" cy="1073.7" r="5.37" stroke="rgba(15,25,45,0.55)"/>
<circle cx="946.5" cy="1073.7" r="3.76" stroke="rgba(15,25,45,0.55)"/>
<circle cx="776.27" cy="1092.64" r="6.71" stroke="rgba(15,25,45,0.55)"/>
<circle cx="795.19" cy="1092.64" r="4.83" stroke="rgba(15,25,45,0.55)"/>
<circle cx="814.1" cy="1092.64" r="1.1" fill="rgba(255,85,80,0.62)" stroke="none"/>
<circle cx="833.01" cy="1092.64" r="2.15" stroke="rgba(15,25,45,0.55)"/>
<circle cx="851.93" cy="1092.64" r="6.71" stroke="rgba(15,25,45,0.55)"/>
<circle cx="870.84" cy="1092.64" r="5.37" stroke="rgba(15,25,45,0.55)"/>
<circle cx="889.76" cy="1092.64" r="4.3" stroke="rgba(15,25,45,0.55)"/>
<circle cx="908.67" cy="1092.64" r="4.83" stroke="rgba(15,25,45,0.55)"/>
<circle cx="927.59" cy="1092.64" r="5.91" stroke="rgba(15,25,45,0.55)"/>
<circle cx="946.5" cy="1092.64" r="7.52" stroke="rgba(15,25,45,0.55)"/>
<circle cx="965.41" cy="1092.64" r="8.06" stroke="rgba(15,25,45,0.55)"/>
<circle cx="776.27" cy="1111.58" r="20.14" stroke="rgba(255,85,80,0.62)"/>
<circle cx="795.19" cy="1111.58" r="2.69" stroke="rgba(255,85,80,0.62)"/>
<circle cx="814.1" cy="1111.58" r="4.83" stroke="rgba(15,25,45,0.55)"/>
<circle cx="833.01" cy="1111.58" r="5.37" stroke="rgba(15,25,45,0.55)"/>
<circle cx="851.93" cy="1111.58" r="4.83" stroke="rgba(15,25,45,0.55)"/>
<circle cx="870.84" cy="1111.58" r="4.56" stroke="rgba(15,25,45,0.55)"/>
<circle cx="889.76" cy="1111.58" r="2.95" stroke="rgba(15,25,45,0.55)"/>
<circle cx="908.67" cy="1111.58" r="3.49" stroke="rgba(15,25,45,0.55)"/>
<circle cx="927.59" cy="1111.58" r="4.03" stroke="rgba(15,25,45,0.55)"/>
<circle cx="946.5" cy="1111.58" r="5.37" stroke="rgba(15,25,45,0.55)"/>
<circle cx="965.41" cy="1111.58" r="6.18" stroke="rgba(15,25,45,0.55)"/>
<circle cx="795.19" cy="1130.51" r="8.06" stroke="rgba(15,25,45,0.55)"/>
<circle cx="814.1" cy="1130.51" r="6.71" stroke="rgba(15,25,45,0.55)"/>
<circle cx="833.01" cy="1130.51" r="7.52" stroke="rgba(15,25,45,0.55)"/>
<circle cx="851.93" cy="1130.51" r="7.52" stroke="rgba(15,25,45,0.55)"/>
<circle cx="870.84" cy="1130.51" r="4.03" stroke="rgba(15,25,45,0.55)"/>
<circle cx="889.76" cy="1130.51" r="2.15" stroke="rgba(15,25,45,0.55)"/>
<circle cx="908.67" cy="1130.51" r="3.22" stroke="rgba(15,25,45,0.55)"/>
<circle cx="927.59" cy="1130.51" r="5.37" stroke="rgba(15,25,45,0.55)"/>
<circle cx="946.5" cy="1130.51" r="6.18" stroke="rgba(15,25,45,0.55)"/>
<circle cx="965.41" cy="1130.51" r="9.4" stroke="rgba(15,25,45,0.55)"/>
<circle cx="795.19" cy="1149.45" r="9.13" stroke="rgba(15,25,45,0.55)"/>
<circle cx="814.1" cy="1149.45" r="9.4" stroke="rgba(15,25,45,0.55)"/>
<circle cx="833.01" cy="1149.45" r="7.52" stroke="rgba(15,25,45,0.55)"/>
<circle cx="851.93" cy="1149.45" r="6.44" stroke="rgba(15,25,45,0.55)"/>
<circle cx="870.84" cy="1149.45" r="3.76" stroke="rgba(15,25,45,0.55)"/>
<circle cx="889.76" cy="1149.45" r="4.03" stroke="rgba(255,85,80,0.62)"/>
<circle cx="908.67" cy="1149.45" r="2.15" stroke="rgba(255,85,80,0.62)"/>
<circle cx="927.59" cy="1149.45" r="6.18" stroke="rgba(15,25,45,0.55)"/>
<circle cx="946.5" cy="1149.45" r="8.32" stroke="rgba(15,25,45,0.55)"/>
<circle cx="965.41" cy="1149.45" r="10.2" stroke="rgba(15,25,45,0.55)"/>
<circle cx="984.33" cy="1149.45" r="10.74" stroke="rgba(15,25,45,0.55)"/>
<circle cx="795.19" cy="1168.39" r="8.32" stroke="rgba(15,25,45,0.55)"/>
<circle cx="814.1" cy="1168.39" r="8.06" stroke="rgba(15,25,45,0.55)"/>
<circle cx="833.01" cy="1168.39" r="8.06" stroke="rgba(15,25,45,0.55)"/>
<circle cx="851.93" cy="1168.39" r="6.18" stroke="rgba(15,25,45,0.55)"/>
<circle cx="870.84" cy="1168.39" r="5.1" stroke="rgba(15,25,45,0.55)"/>
<circle cx="889.76" cy="1168.39" r="2.42" stroke="rgba(15,25,45,0.55)"/>
<circle cx="908.67" cy="1168.39" r="6.44" stroke="rgba(15,25,45,0.55)"/>
<circle cx="927.59" cy="1168.39" r="5.64" stroke="rgba(15,25,45,0.55)"/>
<circle cx="946.5" cy="1168.39" r="4.56" stroke="rgba(15,25,45,0.55)"/>
<circle cx="833.01" cy="1187.32" r="13.43" stroke="rgba(255,85,80,0.62)"/>
<circle cx="851.93" cy="1187.32" r="9.13" stroke="rgba(15,25,45,0.55)"/>
<circle cx="870.84" cy="1187.32" r="5.64" stroke="rgba(15,25,45,0.55)"/>
<circle cx="889.76" cy="1187.32" r="2.42" stroke="rgba(255,85,80,0.62)"/>
<circle cx="908.67" cy="1187.32" r="6.71" stroke="rgba(15,25,45,0.55)"/>
<circle cx="927.59" cy="1187.32" r="5.37" stroke="rgba(15,25,45,0.55)"/>
<circle cx="946.5" cy="1187.32" r="3.49" stroke="rgba(255,85,80,0.62)"/>
<circle cx="870.84" cy="1206.26" r="8.59" stroke="rgba(15,25,45,0.55)"/>
<circle cx="889.76" cy="1206.26" r="7.52" stroke="rgba(15,25,45,0.55)"/>
<circle cx="908.67" cy="1206.26" r="5.1" stroke="rgba(255,85,80,0.62)"/>
<circle cx="927.59" cy="1206.26" r="3.49" stroke="rgba(255,85,80,0.62)"/>
<circle cx="946.5" cy="1206.26" r="8.06" stroke="rgba(15,25,45,0.55)"/>
<circle cx="965.41" cy="1206.26" r="10.74" stroke="rgba(15,25,45,0.55)"/>
</g>
<rect x="747.9" y="1045.3" width="264.8" height="208.3" fill="none" stroke="#4a4a4a" stroke-width="1.25"/>
<g stroke="#4a4a4a" stroke-width="1.15">
<path d="M757.36 1253.6v3.4"/>
<path d="M776.27 1253.6v3.4"/>
<path d="M795.19 1253.6v3.4"/>
<path d="M814.1 1253.6v3.4"/>
<path d="M833.01 1253.6v3.4"/>
<path d="M851.93 1253.6v3.4"/>
<path d="M870.84 1253.6v3.4"/>
<path d="M889.76 1253.6v3.4"/>
<path d="M908.67 1253.6v3.4"/>
<path d="M927.59 1253.6v3.4"/>
<path d="M946.5 1253.6v3.4"/>
<path d="M965.41 1253.6v3.4"/>
<path d="M984.33 1253.6v3.4"/>
<path d="M1003.24 1253.6v3.4"/>
<path d="M747.9 1054.77h-3.4"/>
<path d="M747.9 1092.64h-3.4"/>
<path d="M747.9 1130.51h-3.4"/>
<path d="M747.9 1168.39h-3.4"/>
<path d="M747.9 1206.26h-3.4"/>
<path d="M747.9 1244.13h-3.4"/>
</g>
<g font-family='"Liberation Sans", sans-serif' font-size="11.6" fill="#2a2a2a" stroke="#2a2a2a" stroke-width="0.3">
<text x="757.66" y="1267.1" text-anchor="middle">−4</text>
<text x="776.57" y="1267.1" text-anchor="middle">−3</text>
<text x="795.49" y="1267.1" text-anchor="middle">−2</text>
<text x="814.4" y="1267.1" text-anchor="middle">−1</text>
<text x="833.01" y="1267.1" text-anchor="middle">0</text>
<text x="851.93" y="1267.1" text-anchor="middle">1</text>
<text x="870.84" y="1267.1" text-anchor="middle">2</text>
<text x="889.76" y="1267.1" text-anchor="middle">3</text>
<text x="908.67" y="1267.1" text-anchor="middle">4</text>
<text x="927.59" y="1267.1" text-anchor="middle">5</text>
<text x="946.5" y="1267.1" text-anchor="middle">6</text>
<text x="965.41" y="1267.1" text-anchor="middle">7</text>
<text x="984.33" y="1267.1" text-anchor="middle">8</text>
<text x="1003.24" y="1267.1" text-anchor="middle">9</text>
<text x="741.6" y="1058.97" text-anchor="end">50</text>
<text x="741.6" y="1096.84" text-anchor="end">40</text>
<text x="741.6" y="1134.71" text-anchor="end">30</text>
<text x="741.6" y="1172.59" text-anchor="end">20</text>
<text x="741.6" y="1210.46" text-anchor="end">10</text>
<text x="741.6" y="1248.33" text-anchor="end">0</text>
</g>
<g font-family='"Liberation Sans", sans-serif' font-size="13" fill="#2a2a2a" stroke="#2a2a2a" stroke-width="0.5" text-anchor="middle">
<text x="872.6" y="1283.2" textLength="46.5" lengthAdjust="spacingAndGlyphs">BTD(K)</text>
<text transform="translate(715.4 1153.95) rotate(-90)" textLength="25.5" lengthAdjust="spacingAndGlyphs">SZA</text>
</g>
</g>
<rect x="87.2" y="5.9" width="268.8" height="30.15" fill="#fff" stroke="#2a2a2a" stroke-width="1.3"/>
<text x="220.6" y="28.9" font-family='"Liberation Serif", serif' font-size="21" fill="#111" text-anchor="middle" textLength="198.5" lengthAdjust="spacingAndGlyphs">CSW_v1.0 RMSE (K)</text>
<rect x="415.2" y="5.9" width="268.8" height="30.15" fill="#fff" stroke="#2a2a2a" stroke-width="1.3"/>
<text x="548.8" y="28.9" font-family='"Liberation Serif", serif' font-size="21" fill="#111" text-anchor="middle" textLength="198.5" lengthAdjust="spacingAndGlyphs">CSW_v2.0 RMSE (K)</text>
<path d="M735 5.5H1016.4" stroke="#c8c8c8" stroke-width="1" fill="none"/>
<path d="M735 5.5V36.05H1016.4V5.5" fill="none" stroke="#2a2a2a" stroke-width="1.3"/>
<text x="873.4" y="28.9" font-family='"Liberation Serif", serif' font-size="21.3" fill="#111" text-anchor="middle" textLength="258" lengthAdjust="spacingAndGlyphs">Diff. RMSE (v2.0 - v1.0) (K)</text>
<rect x="3.05" y="32.9" width="26.95" height="239.7" fill="#fff" stroke="#333" stroke-width="1.5" rx="0.8"/>
<text transform="translate(23.8 152.85) rotate(-90)" font-family='"Liberation Serif", serif' font-size="20" fill="#111" text-anchor="middle" textLength="218.1" lengthAdjust="spacingAndGlyphs">BTD (K) &amp; Lapse rate (K)</text>
<rect x="3.05" y="286.9" width="26.95" height="237.3" fill="#fff" stroke="#333" stroke-width="1.5" rx="0.8"/>
<text transform="translate(23.8 404.35) rotate(-90)" font-family='"Liberation Serif", serif' font-size="20" fill="#111" text-anchor="middle" textLength="220.9" lengthAdjust="spacingAndGlyphs">Diff. Emi. &amp; Lapse rate (K)</text>
<rect x="3.05" y="541.2" width="26.95" height="226.9" fill="#fff" stroke="#333" stroke-width="1.5" rx="0.8"/>
<text transform="translate(23.8 654.15) rotate(-90)" font-family='"Liberation Serif", serif' font-size="20" fill="#111" text-anchor="middle" textLength="206.7" lengthAdjust="spacingAndGlyphs">SZA (° ) &amp; Lapse rate (K)</text>
<rect x="3.05" y="794.6" width="26.95" height="226.4" fill="#fff" stroke="#333" stroke-width="1.5" rx="0.8"/>
<text transform="translate(23.8 907.75) rotate(-90)" font-family='"Liberation Serif", serif' font-size="20" fill="#111" text-anchor="middle" textLength="177.1" lengthAdjust="spacingAndGlyphs">Diff. Emi. &amp; BTD (K)</text>
<rect x="3.05" y="1041.5" width="26.95" height="228" fill="#fff" stroke="#333" stroke-width="1.5" rx="0.8"/>
<text transform="translate(23.8 1155) rotate(-90)" font-family='"Liberation Serif", serif' font-size="20" fill="#111" text-anchor="middle" textLength="165.2" lengthAdjust="spacingAndGlyphs">SZA (° ) &amp; BTD (K)</text>
<g shape-rendering="crispEdges">
<rect x="91.2" y="1317" width="27.78" height="16" fill="#C8FA6E"/>
<rect x="118.98" y="1317" width="27.78" height="16" fill="#96FA50"/>
<rect x="146.76" y="1317" width="27.78" height="16" fill="#F4F520"/>
<rect x="174.53" y="1317" width="27.78" height="16" fill="#FFFF0A"/>
<rect x="202.31" y="1317" width="27.78" height="16" fill="#F5CD0A"/>
<rect x="230.09" y="1317" width="27.78" height="16" fill="#F8A80A"/>
<rect x="257.87" y="1317" width="27.78" height="16" fill="#FF780A"/>
<rect x="285.64" y="1317" width="27.78" height="16" fill="#FF3200"/>
<rect x="313.42" y="1317" width="27.78" height="16" fill="#DC1400"/>
</g>
<g font-family='"Liberation Serif", serif' fill="#111" text-anchor="middle">
<text x="228.2" y="1314.9" font-size="18.6">RMSE (K)</text>
<g font-size="17.6">
<text x="118.4" y="1352.4">0</text><text x="201.4" y="1352.4">0.9</text><text x="280" y="1352.4">1.8</text><text x="337.4" y="1352.4">&gt; 2.4</text>
</g></g>
<g shape-rendering="crispEdges">
<rect x="761.6" y="1319.1" width="20.85" height="16.1" fill="#0A3CDC"/>
<rect x="782.45" y="1319.1" width="20.85" height="16.1" fill="#0A66F0"/>
<rect x="803.3" y="1319.1" width="20.85" height="16.1" fill="#4B8CFF"/>
<rect x="824.15" y="1319.1" width="20.85" height="16.1" fill="#23C8F0"/>
<rect x="845" y="1319.1" width="20.85" height="16.1" fill="#5AD7FA"/>
<rect x="865.85" y="1319.1" width="20.85" height="16.1" fill="#A5EBFA"/>
<rect x="886.7" y="1319.1" width="20.85" height="16.1" fill="#C8FAFF"/>
<rect x="907.55" y="1319.1" width="20.85" height="16.1" fill="#C8FA6E"/>
<rect x="928.4" y="1319.1" width="20.85" height="16.1" fill="#96FA50"/>
<rect x="949.25" y="1319.1" width="20.85" height="16.1" fill="#F4F520"/>
<rect x="970.1" y="1319.1" width="20.85" height="16.1" fill="#F8A80A"/>
<rect x="990.95" y="1319.1" width="20.85" height="16.1" fill="#FF780A"/>
</g>
<g font-family='"Liberation Serif", serif' fill="#111" text-anchor="middle">
<text x="884.2" y="1317.7" font-size="18">Dif.&#160; RMSE(K)</text>
<g font-size="18">
<text x="768.4" y="1356" textLength="44.6">&lt; -0.3</text><text x="818.3" y="1356">-0.2</text><text x="862.7" y="1354.5">-0.1</text><text x="905" y="1354.5">0</text><text x="948.3" y="1354.5">0.1</text><text x="1000.7" y="1356.5">&gt; 0.2</text>
</g></g>
<g font-family='"Liberation Serif", serif' fill="#111" text-anchor="middle">
<text x="560.5" y="1311" font-size="18">Improvement&#160; Rate</text>
<g fill="none" stroke-width="1.1">
<circle cx="443.2" cy="1324.8" r="11.6" stroke="#222"/>
<circle cx="492" cy="1327.2" r="8.6" stroke="#222"/>
<circle cx="532.8" cy="1327" r="6" stroke="#222"/>
<circle cx="579.3" cy="1323.8" r="12" stroke="#f03030"/>
<circle cx="629" cy="1324.8" r="7.7" stroke="#f03030"/>
<circle cx="669" cy="1325.5" r="5.6" stroke="#f03030"/>
</g>
<g font-size="17">
<text x="441.5" y="1348.1">80%</text>
<text x="490.8" y="1348">40%</text>
<text x="540.3" y="1346.4">20%</text>
<text x="581.8" y="1348.7">-80%</text>
<text x="631.4" y="1348">-40%</text>
<text x="681" y="1347">-20%</text>
</g></g>
</g>
</svg>
</body></html>
